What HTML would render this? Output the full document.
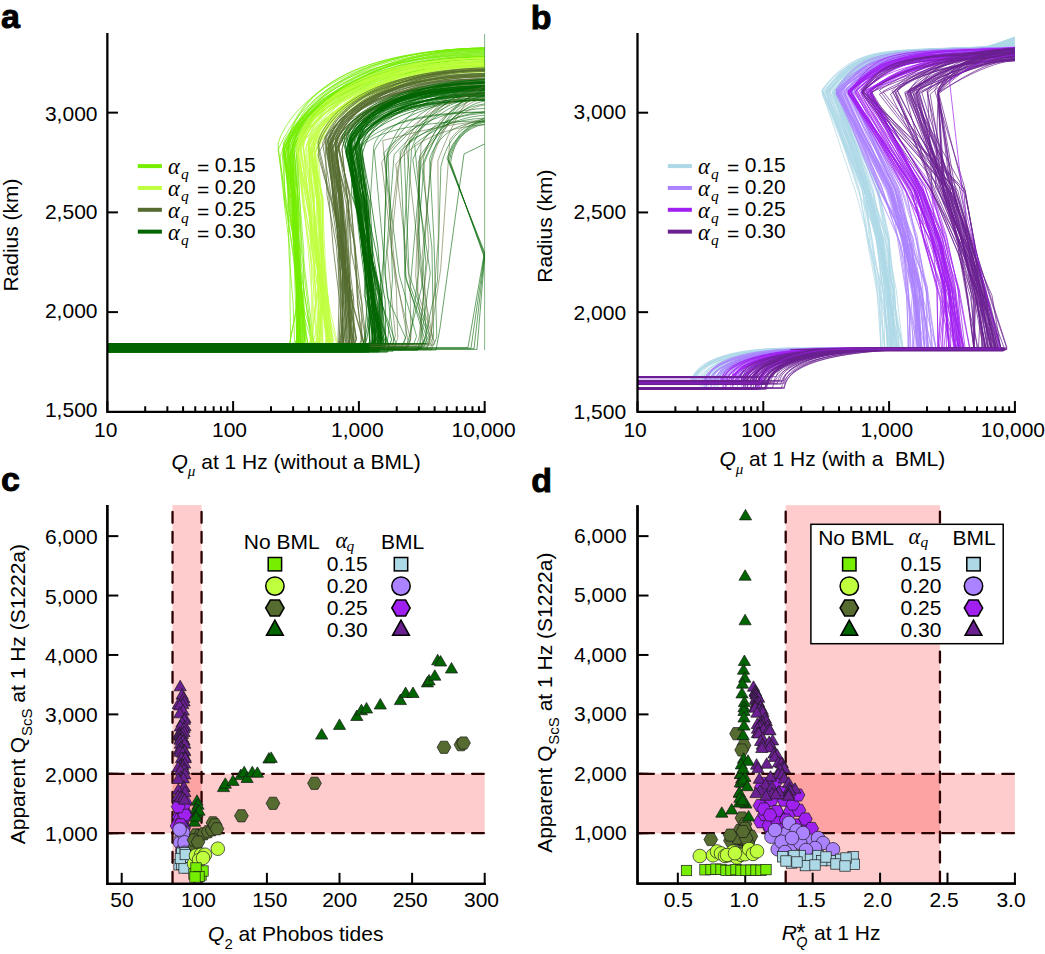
<!DOCTYPE html>
<html><head><meta charset="utf-8"><style>
html,body{margin:0;padding:0;background:#fff;}
svg{display:block;}
svg{font-family:"Liberation Sans", sans-serif;fill:#000;}
</style></head><body>
<svg width="1045" height="954" viewBox="0 0 1045 954">
<rect width="1045" height="954" fill="#fff"/>
<g fill="none" stroke-linejoin="round"><path d="M107.3,346.3H309.4L311.4,341.3L299.1,300.1L292.3,249.2L284.0,195.1L280.1,156.9C292.7,117.5 365.7,50.2 484.6,48.0" stroke="#76EE00" stroke-width="0.7"/>
<path d="M107.3,348.6H306.0L308.0,343.6L298.1,295.4L294.9,253.8L288.5,201.0L287.6,148.7C294.1,118.2 341.2,57.7 484.6,55.8" stroke="#76EE00" stroke-width="0.7"/>
<path d="M107.3,349.5H299.4L301.4,344.5L300.1,297.4L297.6,250.3L295.9,202.3L290.1,159.6C303.3,115.6 340.9,52.4 484.6,50.2" stroke="#76EE00" stroke-width="0.7"/>
<path d="M107.3,347.8H288.7L290.7,342.8L290.0,302.3L290.1,251.0L284.4,204.1L284.1,150.5C297.2,117.9 356.1,53.1 484.6,51.1" stroke="#76EE00" stroke-width="0.7"/>
<path d="M107.3,352.2H297.2L299.2,347.2L298.8,296.2L297.3,252.7L296.2,197.5L289.8,157.7C301.0,116.4 368.9,58.8 484.6,56.8" stroke="#76EE00" stroke-width="0.7"/>
<path d="M107.3,350.7H298.9L300.9,345.7L298.1,296.8L296.2,247.3L294.6,200.9L289.0,142.1C300.4,110.8 371.1,64.0 484.6,62.4" stroke="#76EE00" stroke-width="0.7"/>
<path d="M107.3,349.6H296.2L298.2,344.6L302.3,304.5L298.3,248.7L291.7,195.2L289.9,143.1C297.3,110.1 348.0,52.9 484.6,51.0" stroke="#76EE00" stroke-width="0.7"/>
<path d="M107.3,344.0H294.7L296.7,339.0L297.2,296.5L295.5,248.5L294.4,196.2L285.3,159.9C292.2,113.3 335.4,50.2 484.6,48.0" stroke="#76EE00" stroke-width="0.7"/>
<path d="M107.3,346.5H301.7L303.7,341.5L301.8,295.8L295.6,244.3L288.4,205.7L287.7,154.5C295.2,113.3 363.3,51.4 484.6,49.3" stroke="#76EE00" stroke-width="0.7"/>
<path d="M107.3,348.2H297.3L299.3,343.2L299.3,303.2L298.7,247.3L297.8,198.6L293.6,142.5C306.0,111.6 373.9,60.5 484.6,58.8" stroke="#76EE00" stroke-width="0.7"/>
<path d="M107.3,347.4H310.1L312.1,342.4L306.8,296.4L301.5,251.5L300.0,204.1L296.5,153.8C308.4,124.5 373.9,67.8 484.6,66.0" stroke="#76EE00" stroke-width="0.7"/>
<path d="M107.3,350.4H295.8L297.8,345.4L299.3,299.0L297.9,254.5L298.0,196.7L293.2,144.7C300.4,106.6 368.8,67.6 484.6,66.0" stroke="#76EE00" stroke-width="0.7"/>
<path d="M107.3,352.1H298.7L300.7,347.1L299.0,300.3L296.6,249.3L293.6,203.3L288.3,146.5C300.0,113.8 343.8,58.6 484.6,56.8" stroke="#76EE00" stroke-width="0.7"/>
<path d="M107.3,347.2H309.2L311.2,342.2L305.4,299.0L296.9,250.0L286.3,200.3L278.0,149.9C292.5,117.7 332.8,50.0 484.6,48.0" stroke="#76EE00" stroke-width="0.7"/>
<path d="M107.3,347.7H294.3L296.3,342.7L300.5,295.3L298.0,247.0L294.3,203.3L292.6,152.1C302.6,107.9 360.3,66.5 484.6,64.8" stroke="#76EE00" stroke-width="0.7"/>
<path d="M107.3,347.9H300.0L302.0,342.9L303.1,302.4L298.6,255.3L290.8,200.7L293.6,157.1C303.5,121.3 340.4,54.1 484.6,52.0" stroke="#76EE00" stroke-width="0.7"/>
<path d="M107.3,345.6H292.6L294.6,340.6L293.0,301.9L289.0,254.6L287.9,196.6L284.9,149.2C299.2,96.9 337.4,51.1 484.6,49.1" stroke="#76EE00" stroke-width="0.7"/>
<path d="M107.3,347.3H296.6L298.6,342.3L297.5,299.4L295.2,248.3L294.5,200.1L290.1,159.7C297.0,108.7 345.3,63.4 484.6,61.4" stroke="#76EE00" stroke-width="0.7"/>
<path d="M107.3,343.8H296.3L298.3,338.8L296.9,296.5L296.9,250.7L295.4,195.9L291.0,154.4C305.9,123.5 360.1,62.8 484.6,60.9" stroke="#76EE00" stroke-width="0.7"/>
<path d="M107.3,350.6H313.0L315.0,345.6L301.6,300.6L296.7,247.2L284.0,200.3L278.0,144.0C286.3,112.7 338.5,49.9 484.6,48.0" stroke="#76EE00" stroke-width="0.7"/>
<path d="M107.3,346.2H298.8L300.8,341.2L298.2,295.2L296.4,250.5L292.8,199.7L283.2,143.9C294.3,112.3 363.0,67.6 484.6,66.0" stroke="#76EE00" stroke-width="0.7"/>
<path d="M107.3,347.0H298.7L300.7,342.0L301.6,301.6L296.1,248.2L289.5,195.6L283.0,155.3C289.9,119.8 363.2,55.6 484.6,53.6" stroke="#76EE00" stroke-width="0.7"/>
<path d="M107.3,351.2H296.6L298.6,346.2L297.5,297.6L296.7,254.7L294.2,197.4L284.4,147.6C294.3,119.3 349.5,59.8 484.6,58.0" stroke="#76EE00" stroke-width="0.7"/>
<path d="M107.3,347.9H305.6L307.6,342.9L301.3,294.5L292.4,247.7L285.7,201.0L282.4,155.5C297.3,108.2 344.7,55.9 484.6,53.9" stroke="#76EE00" stroke-width="0.7"/>
<path d="M107.3,346.4H300.3L302.3,341.4L301.7,301.3L299.1,253.1L296.0,200.2L289.0,157.0C300.6,112.6 368.8,67.8 484.6,66.0" stroke="#76EE00" stroke-width="0.7"/>
<path d="M107.3,349.5H294.6L296.6,344.5L296.6,300.6L294.9,251.3L293.3,199.9L289.3,156.4C300.4,117.5 359.9,65.9 484.6,64.1" stroke="#76EE00" stroke-width="0.7"/>
<path d="M107.3,344.1H295.5L297.5,339.1L297.0,304.8L295.4,248.8L293.9,201.8L285.3,153.1C292.8,123.4 341.4,65.1 484.6,63.3" stroke="#76EE00" stroke-width="0.7"/>
<path d="M107.3,350.0H301.0L303.0,345.0L302.5,302.3L296.5,247.5L289.0,199.6L283.7,144.1C299.5,113.8 367.4,60.8 484.6,59.1" stroke="#76EE00" stroke-width="0.7"/>
<path d="M107.3,343.7H298.5L300.5,338.7L297.1,305.3L294.3,251.0L289.3,200.3L292.6,144.4C306.9,109.2 363.7,62.5 484.6,60.9" stroke="#76EE00" stroke-width="0.7"/>
<path d="M107.3,345.5H294.7L296.7,340.5L295.3,296.4L293.8,248.2L292.7,195.0L284.2,157.1C297.3,107.0 366.3,60.7 484.6,58.7" stroke="#76EE00" stroke-width="0.7"/>
<path d="M107.3,346.1H303.3L305.3,341.1L302.0,295.5L298.4,253.3L295.9,204.4L290.4,146.8C299.8,114.2 372.0,56.7 484.6,54.9" stroke="#76EE00" stroke-width="0.7"/>
<path d="M107.3,351.3H312.2L314.2,346.3L307.8,294.6L302.4,249.4L298.4,201.7L291.7,142.9C302.0,116.6 349.4,67.5 484.6,66.0" stroke="#76EE00" stroke-width="0.7"/>
<path d="M107.3,346.1H295.2L297.2,341.1L298.8,298.7L295.9,245.9L294.1,204.9L292.7,146.0C302.8,104.0 342.4,67.6 484.6,66.0" stroke="#76EE00" stroke-width="0.7"/>
<path d="M107.3,345.2H294.9L296.9,340.2L297.2,302.5L295.2,249.1L293.8,198.8L287.8,143.1C294.9,93.8 352.9,49.9 484.6,48.0" stroke="#76EE00" stroke-width="0.7"/>
<path d="M107.3,349.0H296.8L298.8,344.0L298.3,303.5L296.4,245.2L293.1,202.1L283.7,150.5C293.7,123.5 367.0,66.5 484.6,64.8" stroke="#76EE00" stroke-width="0.7"/>
<path d="M107.3,350.8H287.1L289.1,345.8L297.8,302.2L300.7,252.7L298.5,203.2L294.6,151.9C302.5,106.3 373.1,58.7 484.6,56.8" stroke="#76EE00" stroke-width="0.7"/>
<path d="M107.3,349.2H297.1L299.1,344.2L297.9,300.2L297.7,248.9L296.1,201.0L292.0,147.4C304.0,98.6 370.2,54.8 484.6,52.9" stroke="#76EE00" stroke-width="0.7"/>
<path d="M107.3,347.7H302.8L304.8,342.7L302.5,301.7L299.4,247.6L297.3,204.3L291.9,142.6C304.3,105.2 344.0,51.7 484.6,49.9" stroke="#76EE00" stroke-width="0.7"/>
<path d="M107.3,350.5H298.2L300.2,345.5L300.7,296.8L296.2,253.1L294.6,205.4L292.7,145.4C304.9,109.9 373.1,59.1 484.6,57.3" stroke="#76EE00" stroke-width="0.7"/>
<path d="M107.3,344.8H302.6L304.6,339.8L300.9,304.0L297.5,252.3L293.9,204.3L287.9,145.3C294.1,105.7 359.2,63.0 484.6,61.4" stroke="#76EE00" stroke-width="0.7"/>
<path d="M107.3,346.8H295.7L297.7,341.8L297.1,296.2L295.2,247.1L291.9,203.2L283.0,149.8C292.8,107.7 366.3,50.3 484.6,48.2" stroke="#76EE00" stroke-width="0.7"/>
<path d="M107.3,345.2H302.7L304.7,340.2L302.8,294.5L293.3,244.8L292.2,197.1L288.3,158.2C303.5,118.7 357.6,54.4 484.6,52.2" stroke="#76EE00" stroke-width="0.7"/>
<path d="M107.3,345.8H297.4L299.4,340.8L297.2,304.4L293.9,247.3L292.1,204.6L282.4,149.0C293.4,111.8 366.3,59.1 484.6,57.3" stroke="#76EE00" stroke-width="0.7"/>
<path d="M107.3,345.1H310.4L312.4,340.1L304.8,297.8L300.3,253.4L294.4,196.4L297.1,146.5C307.9,117.4 352.5,58.0 484.6,56.2" stroke="#76EE00" stroke-width="0.7"/>
<path d="M107.3,352.1H287.0L289.0,347.1L297.4,302.5L298.1,246.8L297.7,201.4L297.8,155.5C304.5,114.8 372.0,67.8 484.6,66.0" stroke="#76EE00" stroke-width="0.7"/>
<path d="M107.3,346.1H300.7L302.7,341.1L299.4,303.8L296.8,248.3L293.3,204.9L286.3,146.2C302.1,108.4 336.1,64.3 484.6,62.6" stroke="#76EE00" stroke-width="0.7"/>
<path d="M107.3,347.7H304.0L306.0,342.7L303.6,296.3L303.8,251.0L299.6,198.5L298.0,150.1C312.4,106.7 345.0,61.1 484.6,59.3" stroke="#76EE00" stroke-width="0.7"/>
<path d="M107.3,348.7H297.3L299.3,343.7L298.0,301.5L295.0,245.1L292.8,201.8L287.7,147.6C299.0,102.9 335.7,56.7 484.6,54.9" stroke="#76EE00" stroke-width="0.7"/>
<path d="M107.3,344.4H314.9L316.9,339.4L322.2,298.9L314.3,247.7L314.2,197.7L306.1,146.4C320.4,105.5 360.2,65.6 484.6,63.9" stroke="#C0FF3E" stroke-width="0.7"/>
<path d="M107.3,345.2H317.0L319.0,340.2L321.0,303.8L321.5,246.6L320.3,200.5L312.5,156.4C320.9,115.7 369.5,67.0 484.6,65.2" stroke="#C0FF3E" stroke-width="0.7"/>
<path d="M107.3,344.8H312.0L314.0,339.8L320.6,305.6L311.5,245.5L311.9,205.7L302.7,141.0C316.4,112.5 367.1,70.7 484.6,69.2" stroke="#C0FF3E" stroke-width="0.7"/>
<path d="M107.3,350.8H330.5L332.5,345.8L328.1,296.2L313.7,248.8L306.3,198.6L297.0,144.4C303.0,104.0 361.2,65.7 484.6,64.1" stroke="#C0FF3E" stroke-width="0.7"/>
<path d="M107.3,350.2H335.9L337.9,345.2L327.4,297.7L314.3,251.0L303.2,201.9L297.1,147.9C307.3,107.9 349.2,59.8 484.6,58.0" stroke="#C0FF3E" stroke-width="0.7"/>
<path d="M107.3,350.2H318.9L320.9,345.2L320.7,295.9L319.2,250.1L316.5,201.4L312.0,153.2C317.7,120.6 369.1,77.5 484.6,76.0" stroke="#C0FF3E" stroke-width="0.7"/>
<path d="M107.3,346.8H329.4L331.4,341.8L327.9,304.8L325.0,254.6L322.6,196.7L313.9,156.8C325.5,122.6 358.7,70.6 484.6,68.9" stroke="#C0FF3E" stroke-width="0.7"/>
<path d="M107.3,351.4H328.3L330.3,346.4L322.3,297.2L316.5,247.8L305.2,196.2L298.5,156.9C305.7,110.9 370.4,67.4 484.6,65.5" stroke="#C0FF3E" stroke-width="0.7"/>
<path d="M107.3,344.5H324.9L326.9,339.5L323.4,304.6L315.4,255.9L314.5,198.7L311.9,144.8C320.2,114.2 378.0,76.0 484.6,74.6" stroke="#C0FF3E" stroke-width="0.7"/>
<path d="M107.3,347.4H334.3L336.3,342.4L326.5,305.8L316.5,252.0L305.2,194.0L297.0,142.7C307.4,110.3 373.6,64.4 484.6,62.9" stroke="#C0FF3E" stroke-width="0.7"/>
<path d="M107.3,344.7H324.6L326.6,339.7L321.9,298.3L314.2,251.0L308.2,196.5L303.3,148.5C311.0,102.2 350.6,59.8 484.6,58.0" stroke="#C0FF3E" stroke-width="0.7"/>
<path d="M107.3,344.3H324.9L326.9,339.3L322.2,301.7L321.2,248.2L316.8,199.3L315.9,153.2C321.3,109.1 372.6,67.6 484.6,65.9" stroke="#C0FF3E" stroke-width="0.7"/>
<path d="M107.3,347.1H328.0L330.0,342.1L323.2,297.0L318.4,250.1L313.3,203.1L308.3,145.6C321.4,117.5 376.4,61.1 484.6,59.4" stroke="#C0FF3E" stroke-width="0.7"/>
<path d="M107.3,349.8H308.0L310.0,344.8L312.0,296.7L308.0,246.8L303.0,198.0L300.3,152.5C308.3,111.0 363.1,64.9 484.6,63.1" stroke="#C0FF3E" stroke-width="0.7"/>
<path d="M107.3,347.3H315.4L317.4,342.3L318.6,304.6L316.4,247.1L316.9,202.9L318.0,153.4C325.7,111.6 364.4,71.4 484.6,69.7" stroke="#C0FF3E" stroke-width="0.7"/>
<path d="M107.3,351.5H330.5L332.5,346.5L328.6,302.4L323.2,249.2L317.2,200.8L307.8,143.8C321.2,119.7 353.7,72.6 484.6,71.1" stroke="#C0FF3E" stroke-width="0.7"/>
<path d="M107.3,343.7H329.4L331.4,338.7L322.3,302.3L316.3,252.4L306.8,194.8L300.4,146.5C314.1,106.6 345.4,66.1 484.6,64.5" stroke="#C0FF3E" stroke-width="0.7"/>
<path d="M107.3,351.1H308.0L310.0,346.1L316.3,304.2L323.0,251.6L323.0,201.6L313.5,141.8C320.4,107.1 363.9,70.1 484.6,68.7" stroke="#C0FF3E" stroke-width="0.7"/>
<path d="M107.3,347.2H320.7L322.7,342.2L323.4,300.0L321.8,251.2L318.7,199.1L312.1,153.9C321.9,109.5 359.3,59.9 484.6,58.0" stroke="#C0FF3E" stroke-width="0.7"/>
<path d="M107.3,351.1H328.4L330.4,346.1L328.1,305.7L311.7,249.9L304.8,203.6L297.0,148.9C305.1,104.4 375.4,59.8 484.6,58.0" stroke="#C0FF3E" stroke-width="0.7"/>
<path d="M107.3,346.0H326.1L328.1,341.0L321.8,303.5L317.5,253.4L308.2,198.3L300.3,147.1C314.0,120.6 343.8,69.1 484.6,67.5" stroke="#C0FF3E" stroke-width="0.7"/>
<path d="M107.3,345.3H314.2L316.2,340.3L315.7,299.5L313.5,253.1L310.1,201.8L300.6,145.9C312.2,102.6 370.2,59.8 484.6,58.0" stroke="#C0FF3E" stroke-width="0.7"/>
<path d="M107.3,345.0H316.5L318.5,340.0L324.7,296.9L314.6,247.6L313.2,204.1L301.9,142.8C312.1,111.9 349.9,63.9 484.6,62.3" stroke="#C0FF3E" stroke-width="0.7"/>
<path d="M107.3,346.4H309.3L311.3,341.4L313.0,298.6L315.3,253.5L308.5,199.2L297.1,151.5C306.4,118.0 341.7,59.9 484.6,58.0" stroke="#C0FF3E" stroke-width="0.7"/>
<path d="M107.3,347.0H331.5L333.5,342.0L326.6,301.2L323.1,252.9L321.8,199.2L314.5,153.5C325.8,123.6 383.5,72.8 484.6,71.1" stroke="#C0FF3E" stroke-width="0.7"/>
<path d="M107.3,350.3H329.0L331.0,345.3L325.9,301.5L319.1,249.0L319.0,202.6L313.3,144.5C323.8,113.7 366.8,71.0 484.6,69.5" stroke="#C0FF3E" stroke-width="0.7"/>
<path d="M107.3,349.4H326.0L328.0,344.4L326.6,295.4L322.9,246.6L320.5,204.4L313.3,141.8C324.6,113.5 370.3,77.1 484.6,75.8" stroke="#C0FF3E" stroke-width="0.7"/>
<path d="M107.3,349.1H317.3L319.3,344.1L322.0,298.7L322.1,245.5L323.0,198.3L308.8,144.9C317.8,121.6 364.1,72.9 484.6,71.5" stroke="#C0FF3E" stroke-width="0.7"/>
<path d="M107.3,349.6H320.8L322.8,344.6L321.8,303.0L321.0,247.1L319.1,202.8L310.2,151.4C317.4,113.5 383.8,65.6 484.6,63.9" stroke="#C0FF3E" stroke-width="0.7"/>
<path d="M107.3,346.6H325.6L327.6,341.6L326.4,295.5L323.2,248.3L318.3,197.2L308.9,144.6C314.2,117.6 374.6,70.0 484.6,68.4" stroke="#C0FF3E" stroke-width="0.7"/>
<path d="M107.3,346.0H323.9L325.9,341.0L322.8,304.3L320.5,245.6L317.4,204.1L308.7,142.5C314.1,108.8 349.7,68.7 484.6,67.2" stroke="#C0FF3E" stroke-width="0.7"/>
<path d="M107.3,351.9H318.0L320.0,346.9L318.6,296.5L317.4,252.9L313.8,203.9L306.1,154.1C318.5,112.9 377.0,73.9 484.6,72.2" stroke="#C0FF3E" stroke-width="0.7"/>
<path d="M107.3,345.2H326.8L328.8,340.2L327.7,297.2L319.9,245.7L316.8,194.7L311.1,142.6C321.0,112.3 380.9,71.8 484.6,70.3" stroke="#C0FF3E" stroke-width="0.7"/>
<path d="M107.3,343.6H325.4L327.4,338.6L324.5,304.6L321.1,251.4L319.2,195.3L311.5,152.3C325.2,123.0 369.0,77.5 484.6,76.0" stroke="#C0FF3E" stroke-width="0.7"/>
<path d="M107.3,347.8H326.8L328.8,342.8L325.5,299.7L322.1,252.7L318.2,199.4L311.6,150.0C324.0,122.1 365.4,77.5 484.6,76.0" stroke="#C0FF3E" stroke-width="0.7"/>
<path d="M107.3,347.9H317.2L319.2,342.9L316.6,297.8L312.0,251.0L309.4,203.4L297.0,153.0C303.1,116.7 351.5,70.1 484.6,68.4" stroke="#C0FF3E" stroke-width="0.7"/>
<path d="M107.3,343.6H314.9L316.9,338.6L319.4,301.3L312.6,251.5L308.2,201.2L303.3,143.8C315.6,110.9 348.8,65.4 484.6,63.8" stroke="#C0FF3E" stroke-width="0.7"/>
<path d="M107.3,345.1H310.6L312.6,340.1L315.4,303.4L309.2,247.1L303.0,199.1L297.0,147.8C303.1,103.3 361.4,62.4 484.6,60.7" stroke="#C0FF3E" stroke-width="0.7"/>
<path d="M107.3,343.8H315.5L317.5,338.8L312.0,298.6L311.0,255.3L308.8,199.7L298.4,141.8C305.4,113.2 342.0,63.8 484.6,62.2" stroke="#C0FF3E" stroke-width="0.7"/>
<path d="M107.3,343.5H331.1L333.1,338.5L324.8,302.2L318.9,252.3L313.3,195.5L304.6,152.8C310.8,116.6 368.6,77.0 484.6,75.4" stroke="#C0FF3E" stroke-width="0.7"/>
<path d="M107.3,349.7H327.8L329.8,344.7L319.4,294.2L318.8,253.8L309.2,197.7L309.6,143.0C315.3,113.2 362.8,72.9 484.6,71.5" stroke="#C0FF3E" stroke-width="0.7"/>
<path d="M107.3,348.6H326.7L328.7,343.6L324.6,301.6L317.0,248.6L313.8,205.3L309.8,150.2C323.6,121.6 374.5,64.7 484.6,62.9" stroke="#C0FF3E" stroke-width="0.7"/>
<path d="M107.3,350.8H320.6L322.6,345.8L317.8,299.1L317.4,248.5L311.0,201.2L309.0,154.5C316.5,125.0 364.2,62.7 484.6,60.9" stroke="#C0FF3E" stroke-width="0.7"/>
<path d="M107.3,348.7H316.5L318.5,343.7L323.6,300.9L318.5,254.2L321.5,202.2L318.0,146.2C329.6,111.9 363.1,68.3 484.6,66.7" stroke="#C0FF3E" stroke-width="0.7"/>
<path d="M107.3,350.1H325.4L327.4,345.1L324.7,302.5L322.5,249.6L318.4,203.1L309.8,144.2C322.8,109.8 368.3,77.3 484.6,75.9" stroke="#C0FF3E" stroke-width="0.7"/>
<path d="M107.3,347.7H320.0L322.0,342.7L319.9,299.0L317.4,246.5L313.9,205.0L307.7,141.9C314.3,107.6 369.5,71.9 484.6,70.5" stroke="#C0FF3E" stroke-width="0.7"/>
<path d="M107.3,346.5H318.1L320.1,341.5L321.8,297.6L322.7,249.3L322.6,202.7L313.7,157.3C320.6,127.1 359.3,65.7 484.6,63.8" stroke="#C0FF3E" stroke-width="0.7"/>
<path d="M107.3,344.2H309.0L311.0,339.2L316.4,294.8L309.7,248.8L303.0,205.5L297.0,150.2C308.9,104.1 355.0,62.7 484.6,60.9" stroke="#C0FF3E" stroke-width="0.7"/>
<path d="M107.3,347.4H337.7L339.7,342.4L340.7,298.2L340.0,254.9L333.7,194.6L326.0,149.5C331.2,109.8 367.2,75.1 484.6,73.5" stroke="#556B2F" stroke-width="0.7"/>
<path d="M107.3,350.1H338.6L340.6,345.1L343.9,297.9L345.9,245.5L349.4,196.0L336.8,138.7C346.5,122.6 376.6,89.0 484.6,88.0" stroke="#556B2F" stroke-width="0.7"/>
<path d="M107.3,343.8H354.1L356.1,338.8L351.3,296.0L347.0,253.4L342.6,199.5L336.5,151.6C342.0,122.4 377.2,87.5 484.6,86.2" stroke="#556B2F" stroke-width="0.7"/>
<path d="M107.3,344.0H347.8L349.8,339.0L348.1,295.9L344.2,254.1L342.7,196.0L335.0,142.0C346.8,123.7 371.3,89.1 484.6,88.0" stroke="#556B2F" stroke-width="0.7"/>
<path d="M107.3,351.4H346.3L348.3,346.4L344.7,304.9L341.1,254.3L335.9,197.9L326.5,137.1C339.0,117.5 363.6,86.0 484.6,85.0" stroke="#556B2F" stroke-width="0.7"/>
<path d="M107.3,350.6H339.6L341.6,345.6L343.0,304.1L342.2,250.7L341.4,196.8L332.8,149.5C338.0,123.1 386.2,71.6 484.6,70.0" stroke="#556B2F" stroke-width="0.7"/>
<path d="M107.3,347.9H349.2L351.2,342.9L347.4,295.7L344.3,249.1L341.1,195.6L332.3,142.4C340.6,110.9 367.9,80.2 484.6,78.9" stroke="#556B2F" stroke-width="0.7"/>
<path d="M107.3,351.5H347.5L349.5,346.5L349.6,296.0L343.3,251.1L334.2,200.2L328.7,145.8C339.7,111.2 391.4,73.0 484.6,71.5" stroke="#556B2F" stroke-width="0.7"/>
<path d="M107.3,346.3H351.4L353.4,341.3L346.3,300.1L339.8,250.4L333.5,204.7L328.2,139.5C339.3,116.1 365.3,77.1 484.6,75.9" stroke="#556B2F" stroke-width="0.7"/>
<path d="M107.3,344.3H339.9L341.9,339.3L342.6,296.0L341.6,252.2L339.0,196.2L332.0,145.5C339.7,122.7 371.4,79.8 484.6,78.5" stroke="#556B2F" stroke-width="0.7"/>
<path d="M107.3,348.7H347.6L349.6,343.7L348.4,298.9L343.9,253.4L341.2,199.0L331.6,150.8C338.7,125.9 380.1,84.0 484.6,82.6" stroke="#556B2F" stroke-width="0.7"/>
<path d="M107.3,352.1H362.0L364.0,347.1L357.6,305.5L355.1,247.0L345.6,201.6L335.4,146.1C343.6,118.1 370.5,78.6 484.6,77.2" stroke="#556B2F" stroke-width="0.7"/>
<path d="M107.3,344.7H364.0L366.0,339.7L362.0,304.6L351.4,251.7L348.2,202.1L338.0,146.3C344.2,120.3 387.0,89.2 484.6,88.0" stroke="#556B2F" stroke-width="0.7"/>
<path d="M107.3,347.3H343.5L345.5,342.3L345.7,300.1L342.0,249.7L340.2,196.5L335.5,138.5C342.1,116.6 377.1,84.8 484.6,83.7" stroke="#556B2F" stroke-width="0.7"/>
<path d="M107.3,344.3H352.0L354.0,339.3L349.1,302.5L345.2,250.6L341.1,199.6L328.4,140.6C336.1,112.7 382.6,75.8 484.6,74.5" stroke="#556B2F" stroke-width="0.7"/>
<path d="M107.3,343.6H354.7L356.7,338.6L349.8,305.9L341.7,253.3L332.5,194.8L331.8,144.4C339.8,114.1 389.4,69.6 484.6,68.0" stroke="#556B2F" stroke-width="0.7"/>
<path d="M107.3,344.5H338.8L340.8,339.5L343.0,302.1L339.1,254.2L335.2,200.2L326.8,150.1C337.8,119.6 385.4,78.1 484.6,76.7" stroke="#556B2F" stroke-width="0.7"/>
<path d="M107.3,351.5H363.1L365.1,346.5L353.3,305.6L342.2,249.0L332.5,204.5L322.6,143.2C333.3,113.0 369.4,71.3 484.6,69.8" stroke="#556B2F" stroke-width="0.7"/>
<path d="M107.3,346.9H344.9L346.9,341.9L345.6,296.8L343.1,246.4L341.7,200.8L337.2,153.5C347.8,115.5 399.2,77.8 484.6,76.3" stroke="#556B2F" stroke-width="0.7"/>
<path d="M107.3,345.3H347.5L349.5,340.3L351.0,305.0L346.2,250.5L341.5,200.2L328.5,149.0C337.8,120.0 375.4,76.2 484.6,74.8" stroke="#556B2F" stroke-width="0.7"/>
<path d="M107.3,351.8H343.8L345.8,346.8L349.7,300.9L349.0,255.6L343.1,199.3L336.0,154.9C346.6,122.6 375.4,80.5 484.6,79.0" stroke="#556B2F" stroke-width="0.7"/>
<path d="M107.3,346.3H359.5L361.5,341.3L362.0,303.8L356.0,254.7L349.8,195.9L338.5,145.7C344.2,125.1 390.5,88.8 484.6,87.6" stroke="#556B2F" stroke-width="0.7"/>
<path d="M107.3,348.8H341.3L343.3,343.8L349.5,297.7L342.7,244.0L333.8,204.1L327.7,148.7C336.8,115.8 372.2,71.8 484.6,70.2" stroke="#556B2F" stroke-width="0.7"/>
<path d="M107.3,349.2H350.0L352.0,344.2L348.4,303.1L342.0,245.2L336.9,200.3L335.4,147.6C340.0,126.6 392.7,84.8 484.6,83.5" stroke="#556B2F" stroke-width="0.7"/>
<path d="M107.3,346.3H341.4L343.4,341.3L342.3,298.5L339.0,248.9L335.7,203.9L328.2,154.2C334.8,121.8 365.7,82.8 484.6,81.3" stroke="#556B2F" stroke-width="0.7"/>
<path d="M107.3,351.7H352.7L354.7,346.7L351.6,300.0L346.5,247.4L341.7,202.2L336.4,141.9C346.7,119.4 377.8,89.1 484.6,88.0" stroke="#556B2F" stroke-width="0.7"/>
<path d="M107.3,345.0H354.2L356.2,340.0L349.2,298.9L342.0,245.7L336.0,203.3L329.9,140.7C336.4,114.3 366.7,71.6 484.6,70.2" stroke="#556B2F" stroke-width="0.7"/>
<path d="M107.3,349.3H349.7L351.7,344.3L345.4,299.4L340.3,253.0L334.1,198.5L325.7,143.2C338.1,121.3 378.3,83.4 484.6,82.2" stroke="#556B2F" stroke-width="0.7"/>
<path d="M107.3,345.5H350.7L352.7,340.5L346.5,297.5L341.2,247.1L336.9,196.2L329.8,146.3C337.4,111.5 385.7,74.8 484.6,73.4" stroke="#556B2F" stroke-width="0.7"/>
<path d="M107.3,348.5H341.4L343.4,343.5L341.3,296.1L338.2,248.6L335.5,198.0L331.1,141.9C341.2,117.3 375.1,71.3 484.6,69.8" stroke="#556B2F" stroke-width="0.7"/>
<path d="M107.3,347.0H364.0L366.0,342.0L358.1,294.4L355.4,252.0L347.5,199.0L342.0,149.3C348.8,116.2 392.7,83.5 484.6,82.2" stroke="#556B2F" stroke-width="0.7"/>
<path d="M107.3,345.1H341.4L343.4,340.1L339.0,295.9L333.2,247.6L328.7,194.5L318.0,148.1C327.8,108.8 380.2,69.6 484.6,68.0" stroke="#556B2F" stroke-width="0.7"/>
<path d="M107.3,345.7H346.8L348.8,340.7L353.3,297.4L340.2,254.2L338.4,194.6L324.8,138.1C336.9,117.7 385.4,82.5 484.6,81.4" stroke="#556B2F" stroke-width="0.7"/>
<path d="M107.3,344.3H350.4L352.4,339.3L350.3,299.2L346.0,251.9L342.4,203.3L334.6,144.6C342.3,112.4 384.5,76.2 484.6,74.8" stroke="#556B2F" stroke-width="0.7"/>
<path d="M107.3,351.7H362.5L364.5,346.7L351.4,300.6L345.5,251.7L330.4,197.0L318.0,142.8C325.6,116.5 361.0,70.6 484.6,69.1" stroke="#556B2F" stroke-width="0.7"/>
<path d="M107.3,349.7H343.0L345.0,344.7L343.6,298.0L341.8,246.4L339.0,198.3L330.1,146.4C339.9,125.1 384.1,86.8 484.6,85.6" stroke="#556B2F" stroke-width="0.7"/>
<path d="M107.3,347.6H340.4L342.4,342.6L346.0,294.7L344.7,246.4L347.1,199.4L330.8,142.2C336.7,118.9 368.5,84.0 484.6,82.8" stroke="#556B2F" stroke-width="0.7"/>
<path d="M107.3,343.6H338.4L340.4,338.6L347.3,295.3L348.2,249.2L348.1,200.5L334.7,153.5C346.2,124.2 388.7,89.3 484.6,88.0" stroke="#556B2F" stroke-width="0.7"/>
<path d="M107.3,345.7H340.5L342.5,340.7L342.6,301.4L342.8,254.3L340.9,202.8L331.9,150.1C342.8,121.8 376.9,71.7 484.6,70.1" stroke="#556B2F" stroke-width="0.7"/>
<path d="M107.3,346.7H351.2L353.2,341.7L347.9,303.2L341.6,254.1L336.8,199.9L329.8,139.0C335.1,111.4 386.7,77.1 484.6,75.8" stroke="#556B2F" stroke-width="0.7"/>
<path d="M107.3,344.9H347.0L349.0,339.9L348.4,302.7L339.9,254.1L340.7,203.4L327.6,141.4C335.6,115.2 374.4,80.7 484.6,79.4" stroke="#556B2F" stroke-width="0.7"/>
<path d="M107.3,347.4H351.3L353.3,342.4L353.8,300.8L347.1,246.3L339.4,197.9L333.4,154.5C345.3,121.4 397.2,89.2 484.6,87.9" stroke="#556B2F" stroke-width="0.7"/>
<path d="M107.3,349.0H349.3L351.3,344.0L348.7,299.8L343.7,248.0L339.5,203.9L335.4,139.6C340.5,118.1 389.4,88.1 484.6,87.1" stroke="#556B2F" stroke-width="0.7"/>
<path d="M107.3,346.8H347.3L349.3,341.8L346.0,303.9L342.7,246.1L339.9,197.5L335.4,146.1C344.0,116.7 376.5,77.0 484.6,75.6" stroke="#556B2F" stroke-width="0.7"/>
<path d="M107.3,348.5H336.0L338.0,343.5L339.0,299.3L338.6,250.6L331.6,203.1L318.0,154.8C329.9,127.6 369.4,75.4 484.6,73.8" stroke="#556B2F" stroke-width="0.7"/>
<path d="M107.3,345.0H359.2L361.2,340.0L357.4,296.8L354.0,244.2L350.9,196.6L338.2,149.4C347.1,117.6 397.3,87.3 484.6,86.0" stroke="#556B2F" stroke-width="0.7"/>
<path d="M107.3,348.5H340.8L342.8,343.5L349.5,302.2L350.4,245.5L347.9,202.8L342.0,149.7C347.0,118.5 390.5,80.5 484.6,79.0" stroke="#556B2F" stroke-width="0.7"/>
<path d="M107.3,350.6H336.7L338.7,345.6L341.2,304.1L336.3,245.4L327.0,195.3L325.0,139.5C335.3,113.8 373.9,72.5 484.6,71.1" stroke="#556B2F" stroke-width="0.7"/>
<path d="M107.3,344.8H389.6L391.6,339.8L380.5,298.1L372.7,250.0L370.0,203.6L354.3,139.5C360.8,121.4 396.7,100.8 484.6,100.0" stroke="#006400" stroke-width="0.7"/>
<path d="M107.3,344.9H379.5L381.5,339.9L375.0,303.9L368.3,245.4L361.7,198.6L354.9,147.0C358.8,126.8 399.7,96.1 484.6,95.1" stroke="#006400" stroke-width="0.7"/>
<path d="M107.3,346.4H381.2L383.2,341.4L373.7,297.7L364.4,247.6L356.1,200.3L346.4,154.9C355.8,122.5 402.2,81.5 484.6,80.0" stroke="#006400" stroke-width="0.7"/>
<path d="M107.3,350.3H368.6L370.6,345.3L377.7,305.3L369.8,247.6L364.8,202.9L355.3,148.1C361.8,123.2 386.7,91.4 484.6,90.3" stroke="#006400" stroke-width="0.7"/>
<path d="M107.3,346.5H378.9L380.9,341.5L374.6,298.2L363.5,244.1L359.7,199.4L347.0,146.8C351.6,124.5 387.0,84.6 484.6,83.3" stroke="#006400" stroke-width="0.7"/>
<path d="M107.3,346.2H380.1L382.1,341.2L381.9,295.0L369.8,251.0L368.1,198.3L361.4,144.1C368.1,129.6 411.8,100.9 484.6,100.0" stroke="#006400" stroke-width="0.7"/>
<path d="M107.3,345.9H370.6L372.6,340.9L368.2,297.0L363.2,253.6L358.7,197.0L350.3,154.3C359.8,131.9 404.6,88.1 484.6,86.8" stroke="#006400" stroke-width="0.7"/>
<path d="M107.3,346.5H375.7L377.7,341.5L373.3,298.3L369.3,251.5L365.0,201.8L359.0,137.1C366.7,119.0 396.3,82.5 484.6,81.4" stroke="#006400" stroke-width="0.7"/>
<path d="M107.3,347.9H375.2L377.2,342.9L370.5,295.6L362.5,252.2L355.4,195.9L350.4,138.7C359.9,124.5 392.7,97.1 484.6,96.2" stroke="#006400" stroke-width="0.7"/>
<path d="M107.3,348.2H378.8L380.8,343.2L379.9,297.1L371.0,253.2L364.1,197.7L358.0,154.6C365.2,130.8 410.9,92.3 484.6,91.0" stroke="#006400" stroke-width="0.7"/>
<path d="M107.3,344.7H377.0L379.0,339.7L373.9,302.6L367.9,245.3L363.4,195.6L356.4,146.5C362.6,112.5 389.8,81.3 484.6,80.0" stroke="#006400" stroke-width="0.7"/>
<path d="M107.3,345.1H362.8L364.8,340.1L371.2,305.8L369.2,251.6L364.0,203.6L357.1,142.2C365.6,127.9 388.2,100.8 484.6,100.0" stroke="#006400" stroke-width="0.7"/>
<path d="M107.3,349.2H378.6L380.6,344.2L380.1,305.3L367.8,246.7L356.9,197.1L348.7,140.4C357.1,113.3 388.1,84.4 484.6,83.3" stroke="#006400" stroke-width="0.7"/>
<path d="M107.3,352.2H387.4L389.4,347.2L375.8,303.0L368.0,247.4L354.0,199.8L350.8,139.1C357.9,116.2 397.1,88.3 484.6,87.3" stroke="#006400" stroke-width="0.7"/>
<path d="M107.3,351.3H386.7L388.7,346.3L375.1,304.4L369.2,247.6L351.7,195.3L351.9,136.2C360.7,120.4 385.1,91.7 484.6,90.8" stroke="#006400" stroke-width="0.7"/>
<path d="M107.3,345.0H373.1L375.1,340.0L373.2,295.3L368.1,252.9L365.9,195.4L358.9,140.4C362.8,124.3 412.6,93.5 484.6,92.5" stroke="#006400" stroke-width="0.7"/>
<path d="M107.3,346.3H374.7L376.7,341.3L370.7,296.5L363.7,250.0L356.4,198.5L349.4,153.5C360.0,132.5 404.3,96.3 484.6,95.2" stroke="#006400" stroke-width="0.7"/>
<path d="M107.3,349.9H371.0L373.0,344.9L368.2,300.6L361.8,245.1L356.6,201.5L349.3,146.4C359.3,116.2 399.8,89.7 484.6,88.5" stroke="#006400" stroke-width="0.7"/>
<path d="M107.3,347.0H381.4L383.4,342.0L374.8,305.0L366.1,251.1L360.4,197.5L352.8,143.2C357.5,121.4 405.3,83.4 484.6,82.2" stroke="#006400" stroke-width="0.7"/>
<path d="M107.3,350.4H378.0L380.0,345.4L372.6,304.7L364.6,252.5L359.6,200.1L352.1,154.9C361.0,127.6 392.6,95.1 484.6,93.9" stroke="#006400" stroke-width="0.7"/>
<path d="M107.3,349.8H373.7L375.7,344.8L374.0,300.5L363.2,251.4L356.9,204.9L349.1,149.7C354.6,124.2 384.2,89.5 484.6,88.2" stroke="#006400" stroke-width="0.7"/>
<path d="M107.3,351.7H379.2L381.2,346.7L373.3,303.9L367.8,251.7L363.3,204.7L358.0,136.8C367.0,113.2 390.3,89.6 484.6,88.7" stroke="#006400" stroke-width="0.7"/>
<path d="M107.3,344.9H373.0L375.0,339.9L371.4,299.0L368.5,252.0L364.3,199.8L355.5,150.4C361.7,118.2 398.6,81.4 484.6,80.0" stroke="#006400" stroke-width="0.7"/>
<path d="M107.3,345.6H372.9L374.9,340.6L368.4,296.8L362.4,247.7L355.4,197.4L346.4,137.7C352.0,113.9 389.9,90.6 484.6,89.6" stroke="#006400" stroke-width="0.7"/>
<path d="M107.3,350.5H368.4L370.4,345.5L367.8,299.1L364.1,253.1L360.1,198.9L352.7,153.6C361.3,119.2 392.9,88.7 484.6,87.4" stroke="#006400" stroke-width="0.7"/>
<path d="M107.3,349.4H378.6L380.6,344.4L374.2,302.6L365.3,250.9L359.6,199.6L350.6,143.9C357.5,114.9 394.6,87.3 484.6,86.2" stroke="#006400" stroke-width="0.7"/>
<path d="M107.3,348.0H383.7L385.7,343.0L385.2,300.6L376.4,253.2L364.1,196.6L353.7,151.5C362.6,131.0 398.6,91.3 484.6,90.1" stroke="#006400" stroke-width="0.7"/>
<path d="M107.3,344.0H364.8L366.8,339.0L373.3,301.0L372.5,253.8L366.5,195.7L354.0,145.8C359.7,114.4 390.9,86.9 484.6,85.7" stroke="#006400" stroke-width="0.7"/>
<path d="M107.3,346.3H367.8L369.8,341.3L365.3,297.7L365.1,253.6L358.3,197.1L341.8,137.0C349.4,116.8 388.6,86.7 484.6,85.7" stroke="#006400" stroke-width="0.7"/>
<path d="M107.3,348.6H383.6L385.6,343.6L372.6,297.8L366.8,248.9L358.4,197.9L345.5,151.1C355.3,120.0 394.0,85.3 484.6,84.0" stroke="#006400" stroke-width="0.7"/>
<path d="M107.3,347.5H380.2L382.2,342.5L372.5,303.6L363.5,251.0L355.6,204.2L348.3,151.2C357.0,127.2 387.7,99.7 484.6,98.7" stroke="#006400" stroke-width="0.7"/>
<path d="M107.3,345.4H380.2L382.2,340.4L374.6,304.5L365.2,251.6L357.4,204.1L349.3,138.9C353.6,116.2 403.0,90.7 484.6,89.7" stroke="#006400" stroke-width="0.7"/>
<path d="M107.3,346.1H383.7L385.7,341.1L381.4,297.9L368.2,245.8L357.5,205.8L344.0,136.6C349.8,112.4 391.7,83.8 484.6,82.7" stroke="#006400" stroke-width="0.7"/>
<path d="M107.3,344.3H378.0L380.0,339.3L378.8,295.5L370.5,256.0L362.8,200.3L348.1,142.6C358.6,121.9 382.2,94.3 484.6,93.3" stroke="#006400" stroke-width="0.7"/>
<path d="M107.3,347.8H381.5L383.5,342.8L382.5,304.7L377.8,246.7L370.0,194.4L362.2,154.4C369.9,123.8 391.7,96.0 484.6,94.8" stroke="#006400" stroke-width="0.7"/>
<path d="M107.3,346.4H378.9L380.9,341.4L372.0,300.6L363.9,250.5L357.9,201.0L351.2,136.6C359.5,120.7 385.5,90.2 484.6,89.2" stroke="#006400" stroke-width="0.7"/>
<path d="M107.3,348.6H376.8L378.8,343.6L371.7,303.4L364.7,249.8L356.7,195.9L347.5,138.2C352.4,116.3 391.9,88.0 484.6,87.0" stroke="#006400" stroke-width="0.7"/>
<path d="M107.3,344.9H370.7L372.7,339.9L372.5,295.5L365.8,254.5L361.2,204.7L345.9,153.9C354.0,123.4 396.9,91.8 484.6,90.5" stroke="#006400" stroke-width="0.7"/>
<path d="M107.3,345.5H371.5L373.5,340.5L367.9,303.9L361.0,250.8L355.4,201.0L346.7,149.5C355.0,127.0 405.4,89.2 484.6,88.0" stroke="#006400" stroke-width="0.7"/>
<path d="M107.3,343.9H376.8L378.8,338.9L378.1,305.1L366.3,255.3L362.1,198.9L348.9,140.7C354.0,120.3 389.5,97.0 484.6,96.1" stroke="#006400" stroke-width="0.7"/>
<path d="M107.3,344.7H373.4L375.4,339.7L372.5,300.0L369.3,254.1L366.6,201.4L361.4,147.9C365.7,119.8 407.4,90.7 484.6,89.5" stroke="#006400" stroke-width="0.7"/>
<path d="M107.3,346.6H367.5L369.5,341.6L370.0,305.2L363.5,252.9L356.4,203.6L345.2,144.3C355.5,117.5 385.7,89.6 484.6,88.4" stroke="#006400" stroke-width="0.7"/>
<path d="M107.3,352.0H379.1L381.1,347.0L373.0,304.1L365.7,246.4L360.8,196.8L352.7,153.3C359.2,125.6 403.6,94.8 484.6,93.6" stroke="#006400" stroke-width="0.7"/>
<path d="M107.3,350.5H379.5L381.5,345.5L381.4,304.0L370.1,251.1L366.3,203.5L349.3,145.3C358.8,125.2 391.8,87.1 484.6,85.9" stroke="#006400" stroke-width="0.7"/>
<path d="M107.3,348.8H371.5L373.5,343.8L368.8,295.9L363.5,252.0L359.3,201.6L350.5,138.3C360.0,123.3 386.3,93.0 484.6,92.1" stroke="#006400" stroke-width="0.7"/>
<path d="M107.3,345.9H371.3L373.3,340.9L371.2,300.0L368.6,250.1L366.1,196.9L357.1,139.1C362.0,126.6 410.4,100.4 484.6,99.6" stroke="#006400" stroke-width="0.7"/>
<path d="M107.3,347.5H373.0L375.0,342.5L369.2,298.8L363.2,253.9L356.9,195.8L349.1,144.4C357.7,127.1 397.4,100.9 484.6,100.0" stroke="#006400" stroke-width="0.7"/>
<path d="M107.3,346.8H375.6L377.6,341.8L380.3,294.7L370.5,252.2L361.3,199.4L356.1,152.9C360.2,125.1 394.1,95.3 484.6,94.1" stroke="#006400" stroke-width="0.7"/>
<path d="M107.3,344.7H362.4L364.4,339.7L367.6,298.7L372.5,251.7L367.6,203.1L359.9,146.3C367.7,121.1 408.6,98.8 484.6,97.8" stroke="#006400" stroke-width="0.7"/>
<path d="M107.3,349.5H373.5L375.5,344.5L369.5,300.9L367.5,253.5L357.2,195.7L349.4,152.7C354.6,119.5 389.0,83.6 484.6,82.2" stroke="#006400" stroke-width="0.7"/>
<path d="M107.3,343.9H392.4L395.4,335.9L387.2,251.7L398.1,166.9C413.6,119.2 444.8,96.2 484.6,92.5" stroke="#556B2F" stroke-width="0.65" stroke-opacity="0.85"/>
<path d="M107.3,346.1H402.6L405.6,338.1L387.5,297.5L374.3,151.0C382.6,132.9 409.6,101.4 484.6,100.4" stroke="#006400" stroke-width="0.65" stroke-opacity="0.85"/>
<path d="M107.3,350.2H416.9L419.9,342.2L425.9,262.9L414.6,144.3C432.2,129.8 459.0,116.7 484.6,115.3" stroke="#006400" stroke-width="0.65" stroke-opacity="0.85"/>
<path d="M107.3,349.5H390.8L393.8,341.5L384.9,274.1L394.1,154.8C418.1,127.5 453.3,99.4 484.6,96.5" stroke="#006400" stroke-width="0.65" stroke-opacity="0.85"/>
<path d="M107.3,343.8H430.5L433.5,335.8L431.9,247.0L421.9,166.3C436.5,128.5 460.2,99.2 484.6,95.6" stroke="#006400" stroke-width="0.65" stroke-opacity="0.85"/>
<path d="M107.3,349.5H419.8L422.8,341.5L415.7,275.1L421.1,143.1C436.7,119.7 460.9,99.6 484.6,97.3" stroke="#556B2F" stroke-width="0.65" stroke-opacity="0.85"/>
<path d="M107.3,349.0H426.8L429.8,341.0L422.0,257.5L431.9,160.8C442.6,123.8 462.0,101.8 484.6,98.7" stroke="#556B2F" stroke-width="0.65" stroke-opacity="0.85"/>
<path d="M107.3,345.0H433.8L436.8,337.0L433.9,239.3L429.6,158.7C438.4,133.1 457.9,122.9 484.6,121.1" stroke="#006400" stroke-width="0.65" stroke-opacity="0.85"/>
<path d="M107.3,346.8H407.2L410.2,338.8L418.8,270.2L419.5,156.2C437.5,131.6 463.1,103.9 484.6,101.1" stroke="#006400" stroke-width="0.65" stroke-opacity="0.85"/>
<path d="M107.3,349.8H431.4L434.4,341.8L417.8,292.9L418.6,161.1C435.9,134.4 461.5,107.8 484.6,105.0" stroke="#556B2F" stroke-width="0.65" stroke-opacity="0.85"/>
<path d="M107.3,350.1H417.7L420.7,342.1L430.3,272.9L412.8,159.7C424.3,128.1 449.7,115.5 484.6,113.2" stroke="#006400" stroke-width="0.65" stroke-opacity="0.85"/>
<path d="M107.3,348.3H430.3L433.3,340.3L421.2,277.3L406.4,146.3C427.6,119.8 458.1,91.6 484.6,88.8" stroke="#556B2F" stroke-width="0.65" stroke-opacity="0.85"/>
<path d="M107.3,346.4H421.4L424.4,338.4L405.0,274.0L411.5,149.1C425.5,109.6 452.1,88.3 484.6,85.1" stroke="#006400" stroke-width="0.65" stroke-opacity="0.85"/>
<path d="M107.3,344.0H403.1L406.1,336.0L404.1,237.7L409.5,141.1C427.9,129.3 456.5,119.2 484.6,118.1" stroke="#006400" stroke-width="0.65" stroke-opacity="0.85"/>
<path d="M107.3,346.2H394.8L397.8,338.2L396.3,288.8L381.7,162.2C405.4,125.1 444.2,96.8 484.6,93.4" stroke="#556B2F" stroke-width="0.65" stroke-opacity="0.85"/>
<path d="M107.3,343.7H427.0L430.0,335.7L409.0,274.1L404.2,151.9C423.3,118.1 453.8,90.7 484.6,87.5" stroke="#006400" stroke-width="0.65" stroke-opacity="0.85"/>
<path d="M107.3,346.7H407.9L410.9,338.7L410.1,286.3L395.8,164.3C413.5,140.6 446.1,126.8 484.6,124.8" stroke="#556B2F" stroke-width="0.65" stroke-opacity="0.85"/>
<path d="M107.3,351.4H376.1L379.1,343.4L374.3,279.6L356.9,152.7C361.9,137.1 396.6,113.1 484.6,112.3" stroke="#006400" stroke-width="0.65" stroke-opacity="0.85"/>
<path d="M107.3,345.8H385.0L388.0,337.8L392.5,279.3L388.0,152.3C406.4,115.5 441.5,95.9 484.6,92.9" stroke="#006400" stroke-width="0.65" stroke-opacity="0.85"/>
<path d="M107.3,348.0H421.5L424.5,340.0L437.5,280.6L440.9,166.6C447.9,136.1 463.3,124.0 484.6,121.8" stroke="#006400" stroke-width="0.65" stroke-opacity="0.85"/>
<path d="M107.3,345.1H371.9L374.9,337.1L384.0,254.9L386.6,157.6C410.6,126.0 448.0,98.7 484.6,95.6" stroke="#006400" stroke-width="0.65" stroke-opacity="0.85"/>
<path d="M107.3,351.4H393.0L396.0,343.4L375.6,286.3L359.6,149.9C364.0,140.2 392.3,121.5 484.6,121.0" stroke="#006400" stroke-width="0.65" stroke-opacity="0.85"/>
<path d="M107.3,349.7H404.9L407.9,341.7L421.6,287.5L430.6,162.3C439.6,123.4 458.8,107.0 484.6,104.0" stroke="#006400" stroke-width="0.65" stroke-opacity="0.85"/>
<path d="M107.3,348.0H407.6L410.6,340.0L396.1,279.7L382.7,140.6C413.0,132.8 453.7,122.3 484.6,121.4" stroke="#556B2F" stroke-width="0.65" stroke-opacity="0.85"/>
<path d="M107.3,347.0H423.7L426.7,339.0L418.6,230.9L424.2,163.6C438.5,125.2 461.5,94.0 484.6,90.4" stroke="#006400" stroke-width="0.65" stroke-opacity="0.85"/>
<path d="M107.3,346.5H371.7L374.7,338.5L382.5,292.2L387.3,153.0C402.9,108.0 437.3,90.0 484.6,86.7" stroke="#006400" stroke-width="0.65" stroke-opacity="0.85"/>
<path d="M107.3,346.1H416.0L419.0,338.1L428.8,247.0L423.3,157.9C436.0,120.1 458.7,96.5 484.6,93.2" stroke="#556B2F" stroke-width="0.65" stroke-opacity="0.85"/>
<path d="M107.3,344.3H413.6L416.6,336.3L399.1,274.5L383.9,152.8C405.7,127.6 443.1,110.6 484.6,108.4" stroke="#006400" stroke-width="0.65" stroke-opacity="0.85"/>
<path d="M107.3,344.0H423.2L426.2,336.0L406.1,280.0L400.1,151.2C421.0,131.4 453.4,113.9 484.6,111.9" stroke="#006400" stroke-width="0.65" stroke-opacity="0.85"/>
<path d="M107.3,349.0H405.0L408.0,341.0L391.1,246.7L400.0,156.8C415.6,113.0 446.2,91.0 484.6,87.5" stroke="#556B2F" stroke-width="0.65" stroke-opacity="0.85"/>
<path d="M107.3,346.6H427.7L430.7,338.6L438.4,236.6L437.9,160.8C450.6,126.7 468.8,90.2 484.6,86.5" stroke="#556B2F" stroke-width="0.65" stroke-opacity="0.85"/>
<path d="M107.3,343.8H374.5L377.5,335.8L364.2,295.1L373.8,146.1C378.6,128.7 402.8,112.6 484.6,111.9" stroke="#006400" stroke-width="0.65" stroke-opacity="0.85"/>
<path d="M107.3,343.6H425.5L428.5,335.6L410.3,286.5L421.3,159.9C435.7,123.1 459.5,95.8 484.6,92.5" stroke="#006400" stroke-width="0.65" stroke-opacity="0.85"/>
<path d="M107.3,344.3H427.7L430.7,336.3L440.7,268.9L449.8,140.1C457.7,128.5 470.7,120.1 484.6,119.1" stroke="#556B2F" stroke-width="0.65" stroke-opacity="0.85"/>
<path d="M107.3,347.6H468.0L484.5,252.0L447.0,158.0Q455.0,130.0 484.6,118.0" stroke="#006400" stroke-width="0.7" stroke-opacity="0.85"/>
<path d="M107.3,348.2H471.0L484.5,254.0L448.2,159.5Q455.0,130.0 484.6,120.0" stroke="#006400" stroke-width="0.7" stroke-opacity="0.85"/>
<path d="M107.3,348.8H474.0L484.5,256.0L449.4,161.0Q455.0,130.0 484.6,122.0" stroke="#006400" stroke-width="0.7" stroke-opacity="0.85"/>
<path d="M107.3,349.4H477.0L484.5,258.0L450.6,162.5Q455.0,130.0 484.6,124.0" stroke="#006400" stroke-width="0.7" stroke-opacity="0.85"/>
<path d="M107.3,350.0H436.0L440.0,328.0L464.0,154.0L484.5,144.0" stroke="#006400" stroke-width="0.7" stroke-opacity="0.85"/>
<line x1="484.6" y1="34" x2="484.6" y2="350" stroke="#006400" stroke-width="0.8" stroke-opacity="0.6"/>
<rect x="107.35" y="343.2" width="262" height="9.4" fill="#006400" stroke="none"/></g>
<path d="M107.35,33.00 V411.85 H485.65" fill="none" stroke="#000" stroke-width="2.3" stroke-linejoin="miter" stroke-linecap="butt"/>
<line x1="107.35" y1="411.85" x2="107.35" y2="401.05" stroke="#000" stroke-width="2.0"/>
<line x1="233.12" y1="411.85" x2="233.12" y2="401.05" stroke="#000" stroke-width="2.0"/>
<line x1="358.89" y1="411.85" x2="358.89" y2="401.05" stroke="#000" stroke-width="2.0"/>
<line x1="484.66" y1="411.85" x2="484.66" y2="401.05" stroke="#000" stroke-width="2.0"/>
<line x1="145.21" y1="411.85" x2="145.21" y2="406.25" stroke="#000" stroke-width="2.0"/>
<line x1="167.36" y1="411.85" x2="167.36" y2="406.25" stroke="#000" stroke-width="2.0"/>
<line x1="183.07" y1="411.85" x2="183.07" y2="406.25" stroke="#000" stroke-width="2.0"/>
<line x1="195.26" y1="411.85" x2="195.26" y2="406.25" stroke="#000" stroke-width="2.0"/>
<line x1="205.22" y1="411.85" x2="205.22" y2="406.25" stroke="#000" stroke-width="2.0"/>
<line x1="213.64" y1="411.85" x2="213.64" y2="406.25" stroke="#000" stroke-width="2.0"/>
<line x1="220.93" y1="411.85" x2="220.93" y2="406.25" stroke="#000" stroke-width="2.0"/>
<line x1="227.37" y1="411.85" x2="227.37" y2="406.25" stroke="#000" stroke-width="2.0"/>
<line x1="270.98" y1="411.85" x2="270.98" y2="406.25" stroke="#000" stroke-width="2.0"/>
<line x1="293.13" y1="411.85" x2="293.13" y2="406.25" stroke="#000" stroke-width="2.0"/>
<line x1="308.84" y1="411.85" x2="308.84" y2="406.25" stroke="#000" stroke-width="2.0"/>
<line x1="321.03" y1="411.85" x2="321.03" y2="406.25" stroke="#000" stroke-width="2.0"/>
<line x1="330.99" y1="411.85" x2="330.99" y2="406.25" stroke="#000" stroke-width="2.0"/>
<line x1="339.41" y1="411.85" x2="339.41" y2="406.25" stroke="#000" stroke-width="2.0"/>
<line x1="346.70" y1="411.85" x2="346.70" y2="406.25" stroke="#000" stroke-width="2.0"/>
<line x1="353.14" y1="411.85" x2="353.14" y2="406.25" stroke="#000" stroke-width="2.0"/>
<line x1="396.75" y1="411.85" x2="396.75" y2="406.25" stroke="#000" stroke-width="2.0"/>
<line x1="418.90" y1="411.85" x2="418.90" y2="406.25" stroke="#000" stroke-width="2.0"/>
<line x1="434.61" y1="411.85" x2="434.61" y2="406.25" stroke="#000" stroke-width="2.0"/>
<line x1="446.80" y1="411.85" x2="446.80" y2="406.25" stroke="#000" stroke-width="2.0"/>
<line x1="456.76" y1="411.85" x2="456.76" y2="406.25" stroke="#000" stroke-width="2.0"/>
<line x1="465.18" y1="411.85" x2="465.18" y2="406.25" stroke="#000" stroke-width="2.0"/>
<line x1="472.47" y1="411.85" x2="472.47" y2="406.25" stroke="#000" stroke-width="2.0"/>
<line x1="478.91" y1="411.85" x2="478.91" y2="406.25" stroke="#000" stroke-width="2.0"/>
<line x1="107.35" y1="312.12" x2="117.95" y2="312.12" stroke="#000" stroke-width="2.0"/>
<line x1="107.35" y1="212.38" x2="117.95" y2="212.38" stroke="#000" stroke-width="2.0"/>
<line x1="107.35" y1="112.64" x2="117.95" y2="112.64" stroke="#000" stroke-width="2.0"/>
<line x1="137.80" y1="166.10" x2="161.90" y2="166.10" stroke="#76EE00" stroke-width="4"/>
<line x1="137.80" y1="187.95" x2="161.90" y2="187.95" stroke="#C0FF3E" stroke-width="4"/>
<line x1="137.80" y1="209.80" x2="161.90" y2="209.80" stroke="#556B2F" stroke-width="4"/>
<line x1="137.80" y1="231.65" x2="161.90" y2="231.65" stroke="#006400" stroke-width="4"/>
<g fill="none" stroke-linejoin="round"><path d="M637.5,382.7H717.7C720.0,364.3 751.8,349.2 831.4,349.2H893.5L886.1,292.3L879.1,238.4L866.6,192.5L824.3,94.4C859.4,50.6 869.9,52.1 985.0,48.4L1014.9,37.1" stroke="#ADD8E6" stroke-width="0.7"/>
<path d="M637.5,380.6H695.7C697.8,362.6 727.1,347.9 800.4,347.9H896.5L889.7,291.1L882.6,241.3L869.9,188.2L838.0,93.7C864.1,54.3 884.4,51.7 985.0,48.0L1014.9,37.6" stroke="#ADD8E6" stroke-width="0.7"/>
<path d="M637.5,388.2H715.4C717.6,367.4 748.5,350.4 825.9,350.4H891.3L885.8,289.8L876.7,239.2L864.3,191.0L822.4,89.9C864.0,47.9 866.9,50.8 985.0,47.4L1014.9,39.2" stroke="#ADD8E6" stroke-width="0.7"/>
<path d="M637.5,376.8H713.9C716.0,361.7 744.5,349.3 816.0,349.3H894.2L887.9,291.1L881.2,239.4L869.0,188.2L837.6,91.0C862.0,52.5 904.6,51.7 985.0,48.3L1014.9,42.8" stroke="#ADD8E6" stroke-width="0.7"/>
<path d="M637.5,377.7H696.4C698.5,362.4 728.0,349.9 801.7,349.9H888.0L883.0,290.7L876.3,240.8L863.7,189.6L823.0,92.4C849.2,55.1 898.7,51.8 985.0,48.3L1014.9,44.4" stroke="#ADD8E6" stroke-width="0.7"/>
<path d="M637.5,381.1H712.2C714.8,363.1 752.0,348.3 844.8,348.3H903.0L890.5,289.2L889.0,235.4L878.0,187.4L834.1,93.6C860.5,54.7 897.7,51.5 985.0,47.8L1014.9,37.6" stroke="#ADD8E6" stroke-width="0.7"/>
<path d="M637.5,382.7H715.6C718.0,363.9 751.4,348.6 835.1,348.6H888.0L883.0,289.6L876.0,237.4L862.0,190.6L822.0,94.0C857.7,49.8 885.3,52.1 985.0,48.5L1014.9,38.3" stroke="#ADD8E6" stroke-width="0.7"/>
<path d="M637.5,376.7H717.3C719.8,362.2 754.2,350.4 840.3,350.4H881.2L877.0,292.3L868.0,245.0L859.6,190.5L827.5,93.2C864.5,46.9 879.6,51.6 985.0,48.0L1014.9,43.2" stroke="#ADD8E6" stroke-width="0.7"/>
<path d="M637.5,389.0H702.5C705.0,367.6 740.5,350.1 829.1,350.1H892.0L889.1,290.8L881.8,235.8L873.6,194.9L834.1,91.4C865.7,51.9 902.1,51.5 985.0,48.0L1014.9,37.8" stroke="#ADD8E6" stroke-width="0.7"/>
<path d="M637.5,387.6H708.0C710.3,366.1 742.3,348.4 822.3,348.4H897.9L887.5,294.2L880.2,235.1L867.4,191.8L828.9,94.0C859.1,47.0 879.7,51.6 985.0,47.9L1014.9,43.0" stroke="#ADD8E6" stroke-width="0.7"/>
<path d="M637.5,382.2H714.2C716.8,364.6 753.7,350.2 845.7,350.2H887.0L884.3,286.4L880.5,243.4L870.4,192.1L825.3,90.3C852.9,53.6 880.6,51.0 985.0,47.6L1014.9,42.6" stroke="#ADD8E6" stroke-width="0.7"/>
<path d="M637.5,381.7H715.2C717.9,363.7 755.5,349.0 849.5,349.0H895.4L890.2,291.7L883.7,238.5L868.1,186.2L835.4,89.6C860.6,54.8 873.8,51.5 985.0,48.2L1014.9,42.7" stroke="#ADD8E6" stroke-width="0.7"/>
<path d="M637.5,383.0H709.7C712.2,365.1 747.8,350.4 836.9,350.4H891.8L886.7,286.1L879.0,241.7L865.4,188.2L832.1,92.1C867.4,52.2 899.2,51.4 985.0,47.8L1014.9,45.2" stroke="#ADD8E6" stroke-width="0.7"/>
<path d="M637.5,377.6H711.7C713.7,361.9 741.7,349.0 811.9,349.0H893.1L893.2,290.7L886.7,243.0L871.8,189.6L828.2,93.1C862.2,49.2 874.8,51.8 985.0,48.2L1014.9,45.1" stroke="#ADD8E6" stroke-width="0.7"/>
<path d="M637.5,389.2H706.1C708.6,366.9 744.1,348.7 832.7,348.7H899.0L893.6,285.8L889.0,240.5L869.8,189.9L838.0,89.8C861.6,52.9 902.4,51.5 985.0,48.2L1014.9,38.3" stroke="#ADD8E6" stroke-width="0.7"/>
<path d="M637.5,377.2H711.7C714.3,362.1 750.3,349.7 840.3,349.7H903.0L891.8,285.9L885.2,240.3L878.0,192.3L837.4,93.7C863.6,52.4 904.1,51.4 985.0,47.8L1014.9,45.1" stroke="#ADD8E6" stroke-width="0.7"/>
<path d="M637.5,384.0H719.1C721.4,364.9 753.8,349.3 835.0,349.3H885.5L877.0,291.1L872.4,244.7L864.4,189.0L826.0,92.0C849.5,50.8 881.1,51.5 985.0,48.0L1014.9,45.6" stroke="#ADD8E6" stroke-width="0.7"/>
<path d="M637.5,388.0H704.2C706.2,366.5 734.2,349.0 804.3,349.0H898.6L889.0,288.2L889.0,241.2L877.6,186.3L828.9,90.5C863.7,52.2 880.8,50.6 985.0,47.2L1014.9,42.6" stroke="#ADD8E6" stroke-width="0.7"/>
<path d="M637.5,377.4H693.7C696.0,361.5 728.3,348.5 809.1,348.5H884.5L879.8,288.8L868.0,240.3L862.1,187.0L826.9,92.1C860.7,47.8 874.7,51.8 985.0,48.2L1014.9,43.7" stroke="#ADD8E6" stroke-width="0.7"/>
<path d="M637.5,389.0H699.5C701.6,367.7 731.8,350.3 807.1,350.3H890.9L878.2,286.3L869.6,242.3L865.2,186.0L824.5,93.4C854.7,48.4 864.5,50.7 985.0,47.0L1014.9,38.8" stroke="#ADD8E6" stroke-width="0.7"/>
<path d="M637.5,384.2H719.1C721.0,364.9 748.9,349.2 818.7,349.2H900.1L886.5,286.9L878.1,236.1L872.9,190.5L835.0,90.2C859.7,46.8 908.1,50.6 985.0,47.1L1014.9,45.3" stroke="#ADD8E6" stroke-width="0.7"/>
<path d="M637.5,376.8H718.5C720.8,362.0 752.6,349.9 832.0,349.9H888.4L884.4,289.3L877.4,235.1L859.0,193.4L826.6,93.2C852.5,54.5 885.3,51.1 985.0,47.5L1014.9,37.1" stroke="#ADD8E6" stroke-width="0.7"/>
<path d="M637.5,388.9H711.1C713.7,367.2 750.0,349.5 840.6,349.5H890.0L888.2,294.8L881.7,237.6L868.6,192.4L832.5,91.5C870.0,49.5 898.5,51.8 985.0,48.3L1014.9,43.9" stroke="#ADD8E6" stroke-width="0.7"/>
<path d="M637.5,383.4H692.1C694.3,364.5 724.7,349.1 800.8,349.1H894.8L889.2,287.9L880.7,241.3L867.3,191.3L832.6,91.4C865.7,49.6 898.4,51.9 985.0,48.5L1014.9,45.8" stroke="#ADD8E6" stroke-width="0.7"/>
<path d="M637.5,377.3H712.2C714.3,361.7 743.7,348.9 817.4,348.9H890.6L887.0,288.0L879.0,240.4L865.2,193.7L834.3,92.7C856.8,50.4 899.3,51.7 985.0,48.2L1014.9,37.4" stroke="#ADD8E6" stroke-width="0.7"/>
<path d="M637.5,387.9H704.2C706.2,366.6 734.7,349.1 805.9,349.1H897.2L890.8,290.2L883.0,238.9L869.7,191.2L834.4,93.1C855.7,53.5 872.8,51.0 985.0,47.3L1014.9,38.4" stroke="#ADD8E6" stroke-width="0.7"/>
<path d="M637.5,388.2H716.9C719.4,366.1 754.4,347.9 841.9,347.9H897.1L895.0,294.1L889.0,239.8L878.0,187.4L838.0,93.1C875.8,47.5 895.8,51.2 985.0,47.6L1014.9,38.0" stroke="#ADD8E6" stroke-width="0.7"/>
<path d="M637.5,382.3H696.1C698.1,364.1 725.2,349.2 793.2,349.2H894.5L888.5,288.1L882.0,239.4L868.5,190.2L838.0,93.2C860.6,46.3 902.3,50.9 985.0,47.2L1014.9,42.6" stroke="#ADD8E6" stroke-width="0.7"/>
<path d="M637.5,381.5H710.6C712.9,363.8 745.8,349.4 828.1,349.4H890.8L894.5,287.5L886.1,244.2L864.1,185.4L829.2,91.6C852.9,50.7 870.1,51.4 985.0,47.9L1014.9,37.8" stroke="#ADD8E6" stroke-width="0.7"/>
<path d="M637.5,382.7H708.9C711.1,364.2 741.9,349.1 818.9,349.1H896.5L888.0,286.6L882.3,242.5L867.3,192.2L832.9,90.8C861.0,49.8 907.1,51.6 985.0,48.2L1014.9,39.9" stroke="#ADD8E6" stroke-width="0.7"/>
<path d="M637.5,383.5H717.6C719.9,364.4 751.3,348.8 829.7,348.8H881.0L879.6,285.8L872.4,239.8L861.8,188.0L822.0,90.6C846.4,53.1 890.9,51.3 985.0,47.9L1014.9,43.2" stroke="#ADD8E6" stroke-width="0.7"/>
<path d="M637.5,380.9H700.7C703.2,363.2 737.9,348.8 824.8,348.8H884.5L884.2,294.2L869.7,244.1L856.0,193.0L822.0,91.5C862.3,54.1 876.4,51.8 985.0,48.4L1014.9,40.3" stroke="#ADD8E6" stroke-width="0.7"/>
<path d="M637.5,382.0H701.6C703.7,364.0 732.5,349.3 804.4,349.3H903.0L888.5,290.6L889.0,242.6L867.2,187.8L835.0,92.2C873.4,49.4 901.3,51.3 985.0,47.8L1014.9,37.6" stroke="#ADD8E6" stroke-width="0.7"/>
<path d="M637.5,383.7H692.5C694.5,365.0 722.0,349.8 790.8,349.8H893.3L888.4,292.0L880.4,238.0L867.1,192.1L835.5,91.5C873.8,48.8 890.2,50.9 985.0,47.4L1014.9,41.8" stroke="#ADD8E6" stroke-width="0.7"/>
<path d="M637.5,388.7H717.4C719.7,367.4 750.9,350.0 828.9,350.0H899.7L894.1,293.3L883.8,244.6L873.4,190.2L836.5,91.6C859.9,48.2 909.0,51.0 985.0,47.5L1014.9,40.4" stroke="#ADD8E6" stroke-width="0.7"/>
<path d="M637.5,381.2H702.7C704.9,364.3 734.8,350.4 809.4,350.4H889.6L883.1,292.2L876.8,236.5L863.9,190.7L822.0,90.0C849.1,53.0 890.6,50.5 985.0,47.1L1014.9,42.4" stroke="#ADD8E6" stroke-width="0.7"/>
<path d="M637.5,381.1H698.4C700.5,363.9 729.0,349.8 800.3,349.8H892.0L880.2,289.8L879.8,243.9L863.5,188.4L832.8,91.9C855.0,45.7 900.0,50.8 985.0,47.2L1014.9,40.5" stroke="#ADD8E6" stroke-width="0.7"/>
<path d="M637.5,382.5H698.2C700.9,364.4 738.6,349.6 832.8,349.6H892.3L887.3,292.4L879.0,240.8L865.4,187.3L826.5,93.8C860.8,45.7 875.7,51.4 985.0,47.7L1014.9,41.8" stroke="#ADD8E6" stroke-width="0.7"/>
<path d="M637.5,383.6H690.0C692.6,365.2 728.4,350.1 817.9,350.1H891.3L885.1,286.8L879.3,239.7L865.0,190.7L823.8,93.4C864.1,55.4 895.9,51.2 985.0,47.5L1014.9,38.9" stroke="#ADD8E6" stroke-width="0.7"/>
<path d="M637.5,382.6H694.7C697.3,363.9 733.2,348.6 823.0,348.6H891.0L885.1,291.7L877.5,241.5L864.4,189.2L832.9,93.6C854.4,52.6 896.6,51.6 985.0,47.9L1014.9,39.1" stroke="#ADD8E6" stroke-width="0.7"/>
<path d="M637.5,382.3H690.3C693.0,364.5 730.7,350.0 825.0,350.0H882.8L881.4,288.8L870.3,238.0L862.7,188.9L822.2,90.5C851.4,46.7 884.5,51.4 985.0,48.0L1014.9,43.5" stroke="#ADD8E6" stroke-width="0.7"/>
<path d="M637.5,383.9H692.8C694.8,364.2 723.0,348.1 793.4,348.1H891.7L893.7,289.0L877.1,240.9L866.4,187.3L828.0,91.5C867.3,51.0 886.2,50.5 985.0,46.9L1014.9,42.8" stroke="#ADD8E6" stroke-width="0.7"/>
<path d="M637.5,388.9H701.6C703.7,366.9 734.1,348.9 809.8,348.9H896.4L889.0,292.3L880.4,240.9L867.2,188.6L835.1,90.0C865.3,47.7 902.1,50.8 985.0,47.4L1014.9,42.5" stroke="#ADD8E6" stroke-width="0.7"/>
<path d="M637.5,383.6H717.1C719.4,364.4 752.2,348.8 834.0,348.8H896.6L889.2,290.1L881.0,242.7L868.0,193.6L829.5,89.9C862.1,48.4 880.2,50.6 985.0,47.2L1014.9,45.4" stroke="#ADD8E6" stroke-width="0.7"/>
<path d="M637.5,382.3H693.7C696.4,363.5 733.9,348.2 827.7,348.2H901.7L891.5,290.6L889.0,244.1L877.2,193.2L831.6,93.6C869.6,53.6 890.8,51.0 985.0,47.3L1014.9,44.5" stroke="#ADD8E6" stroke-width="0.7"/>
<path d="M637.5,382.7H692.3C694.2,363.8 721.2,348.3 788.6,348.3H903.0L896.0,288.1L887.2,242.4L878.0,190.9L831.6,90.5C855.7,51.9 890.6,51.0 985.0,47.6L1014.9,38.6" stroke="#ADD8E6" stroke-width="0.7"/>
<path d="M637.5,381.4H707.0C709.2,363.9 739.5,349.5 815.3,349.5H881.0L878.9,294.6L868.0,239.7L859.3,191.2L825.9,93.3C867.2,47.3 898.2,51.3 985.0,47.6L1014.9,40.7" stroke="#ADD8E6" stroke-width="0.7"/>
<path d="M637.5,382.7H717.2C719.5,364.3 752.0,349.2 833.2,349.2H888.1L887.8,285.5L880.0,244.0L868.8,191.0L826.4,92.5C851.0,50.9 884.8,50.6 985.0,46.9L1014.9,40.6" stroke="#ADD8E6" stroke-width="0.7"/>
<path d="M637.5,377.4H725.6C727.8,361.6 758.7,348.6 836.1,348.6H919.3L914.2,293.7L902.4,242.9L887.0,192.4L840.3,92.3C866.8,52.6 888.3,55.6 1014.9,52.4" stroke="#AB82FF" stroke-width="0.7"/>
<path d="M637.5,384.4H704.0C706.2,364.7 737.3,348.6 814.8,348.6H928.9L921.5,289.2L909.6,240.7L897.0,186.2L847.9,92.0C890.8,55.8 897.2,55.8 1014.9,52.6" stroke="#AB82FF" stroke-width="0.7"/>
<path d="M637.5,384.3H740.8C742.9,365.5 773.4,350.1 849.6,350.1H912.4L919.7,293.8L905.1,237.0L894.3,186.9L836.0,90.0C867.8,50.5 917.9,54.4 1014.9,51.4" stroke="#AB82FF" stroke-width="0.7"/>
<path d="M637.5,380.9H732.5C735.3,363.3 774.1,349.0 871.0,349.0H921.4L915.1,287.6L905.6,237.9L889.7,192.3L843.0,93.9C871.8,55.8 924.1,54.0 1014.9,50.5" stroke="#AB82FF" stroke-width="0.7"/>
<path d="M637.5,381.5H730.2C732.3,364.4 761.6,350.5 834.8,350.5H920.8L916.5,285.5L902.1,237.8L883.4,193.0L840.3,93.3C870.6,51.3 891.0,52.1 1014.9,48.5" stroke="#AB82FF" stroke-width="0.7"/>
<path d="M637.5,389.2H705.4C707.8,367.5 741.2,349.8 824.8,349.8H918.8L914.8,286.8L902.3,241.4L893.5,191.6L842.4,92.0C880.7,54.8 924.9,55.3 1014.9,52.1" stroke="#AB82FF" stroke-width="0.7"/>
<path d="M637.5,383.7H710.8C713.3,364.3 748.4,348.4 836.1,348.4H925.1L911.9,292.9L901.7,239.9L890.3,190.8L837.1,92.5C874.2,50.7 888.5,54.6 1014.9,51.3" stroke="#AB82FF" stroke-width="0.7"/>
<path d="M637.5,380.4H724.3C726.7,363.1 759.9,349.0 842.7,349.0H908.2L912.4,294.1L905.2,240.4L879.4,187.4L837.8,89.7C875.8,51.7 892.7,52.2 1014.9,48.9" stroke="#AB82FF" stroke-width="0.7"/>
<path d="M637.5,380.7H737.6C739.8,363.0 770.0,348.5 845.5,348.5H918.0L906.0,292.9L897.6,239.1L890.4,187.2L836.0,91.9C882.2,58.0 899.8,54.8 1014.9,51.6" stroke="#AB82FF" stroke-width="0.7"/>
<path d="M637.5,387.7H713.9C716.6,365.9 754.8,348.2 850.5,348.2H920.6L918.7,286.3L906.9,242.1L890.5,187.8L843.5,90.7C886.6,54.1 899.6,53.0 1014.9,49.8" stroke="#AB82FF" stroke-width="0.7"/>
<path d="M637.5,388.6H705.6C708.0,367.1 740.8,349.6 822.7,349.6H926.6L921.1,290.7L908.6,239.7L893.6,192.7L850.7,90.6C877.3,51.7 897.5,52.4 1014.9,49.1" stroke="#AB82FF" stroke-width="0.7"/>
<path d="M637.5,381.2H723.2C725.4,363.5 757.2,349.0 836.5,349.0H936.0L925.4,287.0L917.0,235.7L902.0,188.6L845.7,90.4C877.4,47.5 916.8,51.9 1014.9,48.6" stroke="#AB82FF" stroke-width="0.7"/>
<path d="M637.5,381.9H710.3C713.1,363.7 751.8,348.8 848.8,348.8H936.0L919.8,285.2L906.8,238.8L896.5,193.8L851.7,92.1C882.3,53.4 893.3,50.9 1014.9,47.3" stroke="#AB82FF" stroke-width="0.7"/>
<path d="M637.5,382.9H705.3C707.6,364.2 739.4,348.9 818.8,348.9H924.6L920.6,291.8L908.2,237.2L894.7,188.2L846.1,91.4C874.3,57.0 901.7,55.3 1014.9,52.2" stroke="#AB82FF" stroke-width="0.7"/>
<path d="M637.5,380.5H705.0C707.5,363.3 742.9,349.3 831.2,349.3H927.3L927.0,291.7L915.4,237.2L906.0,191.7L852.0,90.7C876.6,54.4 907.6,54.0 1014.9,50.8" stroke="#AB82FF" stroke-width="0.7"/>
<path d="M637.5,377.1H717.5C719.9,361.4 753.7,348.6 838.3,348.6H921.5L917.0,291.3L906.3,236.7L890.7,189.4L844.7,93.0C882.8,58.3 902.7,53.7 1014.9,50.3" stroke="#AB82FF" stroke-width="0.7"/>
<path d="M637.5,380.6H720.6C722.6,363.3 751.5,349.1 823.8,349.1H921.5L912.3,287.5L913.2,238.5L890.4,190.7L847.5,90.4C883.3,48.4 903.4,53.1 1014.9,49.8" stroke="#AB82FF" stroke-width="0.7"/>
<path d="M637.5,384.4H735.6C738.2,365.2 773.5,349.5 861.7,349.5H921.5L915.4,293.0L903.4,243.3L889.8,187.1L838.0,91.3C865.9,58.5 891.2,55.9 1014.9,52.9" stroke="#AB82FF" stroke-width="0.7"/>
<path d="M637.5,381.3H704.0C706.5,363.5 740.9,348.9 826.8,348.9H917.2L912.6,290.5L905.2,240.6L881.9,194.7L837.9,93.9C877.9,50.1 911.0,52.5 1014.9,48.9" stroke="#AB82FF" stroke-width="0.7"/>
<path d="M637.5,388.9H710.5C713.1,367.0 748.3,349.1 836.4,349.1H921.3L915.1,290.3L904.3,238.0L889.9,187.4L836.0,89.8C863.2,48.5 884.8,50.8 1014.9,47.4" stroke="#AB82FF" stroke-width="0.7"/>
<path d="M637.5,383.6H723.7C725.9,365.2 756.0,350.1 831.2,350.1H920.1L915.2,292.4L903.8,241.7L889.0,191.7L837.9,93.3C880.3,54.4 899.5,55.4 1014.9,52.1" stroke="#AB82FF" stroke-width="0.7"/>
<path d="M637.5,383.0H738.1C740.7,363.8 778.0,348.1 871.1,348.1H914.0L907.8,286.8L909.5,240.9L882.4,194.7L844.4,91.6C876.4,49.6 927.5,54.1 1014.9,50.8" stroke="#AB82FF" stroke-width="0.7"/>
<path d="M637.5,377.4H708.9C710.9,361.6 739.7,348.6 811.5,348.6H922.1L915.4,288.3L911.1,240.4L895.3,188.7L851.5,93.7C882.1,50.8 922.2,52.3 1014.9,48.7" stroke="#AB82FF" stroke-width="0.7"/>
<path d="M637.5,388.2H732.5C734.9,367.2 769.3,350.0 855.3,350.0H919.8L914.0,288.0L902.5,237.0L888.3,186.2L836.0,92.6C865.9,52.1 895.9,52.2 1014.9,48.6" stroke="#AB82FF" stroke-width="0.7"/>
<path d="M637.5,380.5H706.6C709.4,363.0 747.7,348.6 843.3,348.6H924.6L918.9,287.6L906.6,239.9L891.5,192.5L838.1,92.3C876.0,56.2 922.1,54.2 1014.9,50.9" stroke="#AB82FF" stroke-width="0.7"/>
<path d="M637.5,389.2H722.2C724.9,367.5 762.5,349.8 856.5,349.8H917.7L914.3,286.6L903.1,242.0L887.2,190.1L836.0,94.3C872.4,47.1 914.6,50.8 1014.9,47.1" stroke="#AB82FF" stroke-width="0.7"/>
<path d="M637.5,388.2H736.9C739.6,367.1 777.2,349.9 871.0,349.9H928.1L921.8,291.6L910.1,243.3L895.7,190.6L849.8,91.3C889.0,55.2 916.0,54.2 1014.9,50.9" stroke="#AB82FF" stroke-width="0.7"/>
<path d="M637.5,381.5H741.1C743.4,363.1 775.3,348.1 855.0,348.1H912.5L913.6,292.4L899.0,241.8L881.4,186.1L839.4,91.7C874.6,51.4 896.2,50.6 1014.9,47.1" stroke="#AB82FF" stroke-width="0.7"/>
<path d="M637.5,384.4H712.4C715.1,364.7 753.3,348.7 848.6,348.7H928.6L922.0,293.7L912.0,239.3L896.2,187.4L852.0,94.2C878.4,53.8 931.4,52.6 1014.9,48.9" stroke="#AB82FF" stroke-width="0.7"/>
<path d="M637.5,377.3H719.5C722.0,361.4 757.5,348.4 846.3,348.4H931.2L919.0,291.3L904.1,240.7L898.4,193.4L845.3,92.8C876.8,55.5 911.8,53.0 1014.9,49.5" stroke="#AB82FF" stroke-width="0.7"/>
<path d="M637.5,382.5H705.3C707.8,364.1 743.1,349.0 831.4,349.0H931.9L918.1,286.5L911.5,244.9L898.6,188.1L851.8,91.5C877.1,50.5 911.4,55.3 1014.9,52.2" stroke="#AB82FF" stroke-width="0.7"/>
<path d="M637.5,383.9H730.6C733.4,365.3 772.2,350.0 869.1,350.0H936.0L927.0,285.6L909.6,242.1L899.6,193.1L849.2,93.8C878.0,50.0 892.8,51.8 1014.9,48.2" stroke="#AB82FF" stroke-width="0.7"/>
<path d="M637.5,383.7H724.1C726.3,365.1 757.3,350.0 834.8,350.0H932.8L927.0,294.1L912.3,236.5L894.2,186.0L847.7,93.8C873.5,58.2 904.6,55.3 1014.9,52.0" stroke="#AB82FF" stroke-width="0.7"/>
<path d="M637.5,388.6H741.0C743.1,367.6 772.1,350.5 844.8,350.5H920.1L906.5,292.3L899.5,241.7L881.1,185.2L836.9,92.6C874.7,49.9 888.4,52.2 1014.9,48.7" stroke="#AB82FF" stroke-width="0.7"/>
<path d="M637.5,377.4H723.1C725.2,361.3 755.0,348.1 829.3,348.1H932.0L927.0,287.0L917.0,241.9L901.2,188.6L849.9,90.2C881.4,50.7 906.8,53.9 1014.9,50.8" stroke="#AB82FF" stroke-width="0.7"/>
<path d="M637.5,382.5H742.6C744.9,364.4 777.1,349.7 857.5,349.7H911.0L908.2,293.7L903.2,243.5L891.9,189.5L838.3,93.2C872.5,58.2 899.7,54.0 1014.9,50.6" stroke="#AB82FF" stroke-width="0.7"/>
<path d="M637.5,382.2H743.1C745.4,364.3 777.0,349.7 855.9,349.7H920.6L916.4,293.2L905.6,239.4L892.2,192.6L843.7,92.2C886.1,55.3 900.9,51.2 1014.9,47.6" stroke="#AB82FF" stroke-width="0.7"/>
<path d="M637.5,383.4H731.4C733.7,365.2 765.9,350.2 846.2,350.2H924.5L919.2,288.9L908.8,238.5L894.7,190.8L852.0,94.5C891.0,51.1 919.9,53.0 1014.9,49.4" stroke="#AB82FF" stroke-width="0.7"/>
<path d="M637.5,387.7H723.0C725.3,366.7 758.1,349.6 840.0,349.6H909.2L906.1,288.7L903.6,238.9L878.5,185.8L841.4,92.6C871.0,51.4 915.0,54.7 1014.9,51.5" stroke="#AB82FF" stroke-width="0.7"/>
<path d="M637.5,387.8H723.2C725.2,367.1 753.7,350.1 824.8,350.1H926.5L926.3,288.5L910.9,240.3L901.1,192.9L851.2,90.1C876.7,57.2 911.9,53.6 1014.9,50.4" stroke="#AB82FF" stroke-width="0.7"/>
<path d="M637.5,383.6H714.1C716.5,364.0 749.4,347.9 831.7,347.9H915.1L915.0,289.6L905.0,236.0L892.0,186.5L839.8,91.5C882.5,49.2 900.4,53.9 1014.9,50.7" stroke="#AB82FF" stroke-width="0.7"/>
<path d="M637.5,376.9H737.6C740.2,361.9 776.7,349.7 867.9,349.7H908.0L906.8,286.1L901.1,244.7L878.0,193.5L837.4,89.9C864.7,47.5 895.2,51.9 1014.9,48.6" stroke="#AB82FF" stroke-width="0.7"/>
<path d="M637.5,383.1H740.4C743.1,364.5 782.0,349.3 879.2,349.3H920.3L919.5,288.0L904.9,237.6L891.6,189.3L842.2,91.7C867.4,49.5 887.1,53.1 1014.9,49.7" stroke="#AB82FF" stroke-width="0.7"/>
<path d="M637.5,382.7H720.4C722.6,363.6 753.4,348.1 830.3,348.1H921.8L917.8,292.0L906.6,236.1L890.4,193.7L844.9,94.3C880.9,53.9 899.1,52.8 1014.9,49.2" stroke="#AB82FF" stroke-width="0.7"/>
<path d="M637.5,382.8H716.9C719.3,364.3 753.2,349.2 837.8,349.2H917.2L914.8,288.2L904.0,239.4L887.3,189.2L839.8,89.9C881.8,57.1 896.3,55.9 1014.9,52.9" stroke="#AB82FF" stroke-width="0.7"/>
<path d="M637.5,388.9H730.3C732.4,367.4 761.3,349.9 833.6,349.9H910.2L908.8,294.3L902.5,235.2L880.7,192.5L836.0,93.2C875.6,47.7 920.0,53.0 1014.9,49.5" stroke="#AB82FF" stroke-width="0.7"/>
<path d="M637.5,377.5H722.1C724.7,361.7 761.4,348.8 853.1,348.8H917.8L913.0,291.9L904.2,236.9L888.3,191.3L836.0,90.1C881.5,51.3 920.3,52.2 1014.9,48.9" stroke="#AB82FF" stroke-width="0.7"/>
<path d="M637.5,382.1H726.0C728.7,363.4 766.4,348.1 860.6,348.1H924.6L922.8,289.3L917.0,241.7L905.6,189.9L848.5,93.4C886.7,54.6 913.2,51.3 1014.9,47.6" stroke="#AB82FF" stroke-width="0.7"/>
<path d="M637.5,381.8H726.9C729.3,364.0 763.2,349.4 847.9,349.4H958.5L950.0,288.9L939.2,239.8L920.3,188.6L855.9,90.8C889.2,59.2 897.4,57.3 1014.9,54.4" stroke="#A020F0" stroke-width="0.7"/>
<path d="M637.5,388.2H750.1C752.6,366.9 787.4,349.5 874.4,349.5H963.8L949.1,289.6L940.4,237.3L917.5,186.0L866.4,89.7C901.3,70.1 957.5,55.9 1014.9,54.1" stroke="#A020F0" stroke-width="0.7"/>
<path d="M637.5,381.7H726.4C729.3,364.2 769.9,349.9 871.4,349.9H958.8L951.9,287.6L938.7,240.9L922.1,192.1L870.0,94.1C899.6,69.2 953.0,56.1 1014.9,54.0" stroke="#A020F0" stroke-width="0.7"/>
<path d="M637.5,388.7H732.2C735.0,367.3 774.6,349.8 873.5,349.8H949.4L944.0,288.0L932.0,238.0L914.0,189.9L848.0,90.9C888.9,58.3 924.0,55.4 1014.9,52.3" stroke="#A020F0" stroke-width="0.7"/>
<path d="M637.5,388.6H742.8C745.6,366.9 783.7,349.2 879.2,349.2H964.4L945.6,287.6L937.3,244.4L919.0,192.9L861.7,91.4C900.5,57.1 920.5,57.4 1014.9,54.4" stroke="#A020F0" stroke-width="0.7"/>
<path d="M637.5,381.3H759.9C762.1,364.3 793.3,350.3 871.3,350.3H960.0L951.9,290.5L940.4,243.9L921.7,193.0L870.0,89.8C904.1,66.7 959.0,49.9 1014.9,47.8" stroke="#A020F0" stroke-width="0.7"/>
<path d="M637.5,388.7H755.9C758.7,367.0 797.4,349.2 894.3,349.2H938.0L937.0,290.3L924.0,240.0L906.7,192.1L849.5,89.9C883.7,50.7 912.7,55.1 1014.9,52.1" stroke="#A020F0" stroke-width="0.7"/>
<path d="M637.5,377.0H734.1C736.8,362.3 774.6,350.3 869.2,350.3H970.0L959.0,293.6L946.3,235.2L932.0,190.9L870.0,92.6C893.6,66.5 945.0,58.2 1014.9,56.4" stroke="#A020F0" stroke-width="0.7"/>
<path d="M637.5,384.4H721.3C723.6,365.6 754.8,350.1 832.8,350.1H950.8L944.4,291.5L933.1,240.6L914.0,192.5L848.0,93.5C888.1,60.3 902.6,59.7 1014.9,56.8" stroke="#A020F0" stroke-width="0.7"/>
<path d="M637.5,380.4H752.3C754.7,363.3 787.6,349.4 869.8,349.4H958.3L951.9,287.9L937.7,237.4L920.7,188.0L867.8,91.2C904.3,69.6 960.6,51.8 1014.9,49.8" stroke="#A020F0" stroke-width="0.7"/>
<path d="M637.5,382.5H730.7C733.5,363.7 773.3,348.3 872.8,348.3H954.6L948.2,291.4L934.0,240.3L916.5,192.1L850.3,91.6C880.7,60.6 927.4,59.7 1014.9,56.9" stroke="#A020F0" stroke-width="0.7"/>
<path d="M637.5,388.2H725.7C728.5,367.2 767.3,349.9 864.3,349.9H946.5L945.7,287.9L931.4,242.4L907.2,193.2L855.4,91.4C895.3,55.0 902.5,51.6 1014.9,48.1" stroke="#A020F0" stroke-width="0.7"/>
<path d="M637.5,389.1H759.1C761.5,367.8 795.3,350.3 879.8,350.3H951.1L937.0,286.9L932.5,241.8L916.7,192.3L850.3,91.4C878.7,47.3 893.5,52.1 1014.9,48.6" stroke="#A020F0" stroke-width="0.7"/>
<path d="M637.5,381.8H722.1C724.5,363.4 757.9,348.3 841.3,348.3H942.7L943.2,290.7L933.0,240.3L906.0,185.8L848.0,91.0C889.9,57.4 895.4,57.6 1014.9,54.7" stroke="#A020F0" stroke-width="0.7"/>
<path d="M637.5,382.7H732.4C735.1,365.0 774.0,350.4 871.1,350.4H959.4L943.0,289.7L941.2,244.4L922.1,185.2L856.4,89.8C881.9,49.8 903.4,52.3 1014.9,49.0" stroke="#A020F0" stroke-width="0.7"/>
<path d="M637.5,376.9H753.6C756.1,361.9 791.7,349.6 880.5,349.6H949.0L944.0,286.3L932.0,241.0L914.5,189.8L848.0,91.3C883.0,59.2 911.0,58.7 1014.9,55.9" stroke="#A020F0" stroke-width="0.7"/>
<path d="M637.5,381.7H758.4C760.7,364.5 793.3,350.3 874.7,350.3H958.8L959.0,290.1L939.1,237.9L924.0,192.2L868.2,90.3C896.5,68.3 949.9,58.2 1014.9,56.5" stroke="#A020F0" stroke-width="0.7"/>
<path d="M637.5,377.4H734.6C737.2,361.9 773.4,349.1 864.0,349.1H965.2L957.3,285.0L946.2,237.7L929.4,191.3L861.1,92.0C894.5,50.6 909.3,55.3 1014.9,52.1" stroke="#A020F0" stroke-width="0.7"/>
<path d="M637.5,380.7H753.6C755.9,363.8 788.5,350.0 870.0,350.0H961.7L953.2,289.4L941.0,243.6L922.4,189.9L870.0,92.0C896.0,63.9 948.1,52.8 1014.9,50.8" stroke="#A020F0" stroke-width="0.7"/>
<path d="M637.5,383.9H753.7C756.7,365.4 797.6,350.3 899.9,350.3H964.0L956.0,293.1L944.1,236.8L919.8,188.0L870.0,89.6C899.2,66.1 952.4,54.2 1014.9,52.4" stroke="#A020F0" stroke-width="0.7"/>
<path d="M637.5,388.6H758.3C761.1,367.1 801.6,349.5 902.6,349.5H938.0L943.3,294.8L924.0,238.1L911.7,191.9L858.0,92.6C893.6,56.5 929.8,52.2 1014.9,48.7" stroke="#A020F0" stroke-width="0.7"/>
<path d="M637.5,388.9H756.7C759.3,367.7 795.6,350.3 886.5,350.3H956.2L944.8,288.5L942.8,236.6L925.0,187.3L866.9,93.0C896.1,67.0 950.3,54.4 1014.9,52.4" stroke="#A020F0" stroke-width="0.7"/>
<path d="M637.5,381.1H747.2C749.9,364.2 787.5,350.3 881.7,350.3H956.5L950.2,287.9L938.0,241.2L912.0,192.7L851.4,92.1C875.0,51.6 912.9,55.3 1014.9,52.1" stroke="#A020F0" stroke-width="0.7"/>
<path d="M637.5,383.5H730.5C732.8,364.7 765.0,349.4 845.5,349.4H949.0L944.8,288.8L933.1,243.6L914.4,189.3L848.0,91.9C873.8,59.8 916.9,59.4 1014.9,56.6" stroke="#A020F0" stroke-width="0.7"/>
<path d="M637.5,388.5H746.9C749.8,367.4 790.3,350.2 891.5,350.2H955.6L938.4,290.3L924.0,242.7L913.3,186.5L849.5,93.1C879.0,54.8 916.3,57.5 1014.9,54.4" stroke="#A020F0" stroke-width="0.7"/>
<path d="M637.5,382.3H738.2C740.4,364.0 771.5,349.1 849.4,349.1H960.0L955.0,285.7L945.1,241.9L929.7,186.3L870.0,93.2C905.9,71.3 961.3,53.4 1014.9,51.3" stroke="#A020F0" stroke-width="0.7"/>
<path d="M637.5,382.9H721.9C724.7,363.8 762.6,348.1 857.4,348.1H938.0L937.0,285.7L924.0,239.7L912.9,194.5L849.0,92.4C891.8,57.4 902.0,53.9 1014.9,50.5" stroke="#A020F0" stroke-width="0.7"/>
<path d="M637.5,384.0H741.4C743.8,364.7 778.4,348.9 864.8,348.9H961.0L951.5,289.6L939.8,239.5L922.3,188.5L863.8,91.0C893.2,57.7 933.4,57.7 1014.9,54.8" stroke="#A020F0" stroke-width="0.7"/>
<path d="M637.5,381.9H757.7C760.6,364.3 801.5,349.9 903.8,349.9H955.5L948.8,288.0L935.4,244.5L915.4,191.7L859.5,90.6C891.3,53.4 910.6,57.7 1014.9,54.8" stroke="#A020F0" stroke-width="0.7"/>
<path d="M637.5,380.4H737.5C740.2,362.8 778.8,348.5 875.1,348.5H956.7L949.2,287.6L936.2,236.5L919.0,192.6L854.8,92.5C891.9,54.8 916.8,57.3 1014.9,54.3" stroke="#A020F0" stroke-width="0.7"/>
<path d="M637.5,383.3H743.6C746.1,365.3 782.2,350.5 872.3,350.5H939.0L945.9,292.3L928.1,237.7L909.5,190.3L848.0,92.6C884.7,60.5 921.8,58.9 1014.9,56.0" stroke="#A020F0" stroke-width="0.7"/>
<path d="M637.5,380.9H745.4C748.0,363.5 783.1,349.2 870.9,349.2H970.0L959.0,288.5L944.0,235.8L932.0,191.9L870.0,91.4C899.5,65.6 952.8,52.2 1014.9,50.1" stroke="#A020F0" stroke-width="0.7"/>
<path d="M637.5,380.4H735.7C738.4,362.7 775.7,348.2 869.0,348.2H956.3L939.6,287.5L925.4,236.2L917.8,192.9L850.7,91.9C874.2,54.0 925.5,57.1 1014.9,54.1" stroke="#A020F0" stroke-width="0.7"/>
<path d="M637.5,383.3H749.4C751.8,365.1 785.5,350.2 869.9,350.2H941.4L945.9,289.4L930.5,240.7L907.4,194.9L848.0,92.6C890.7,53.8 906.9,52.4 1014.9,48.9" stroke="#A020F0" stroke-width="0.7"/>
<path d="M637.5,383.9H758.4C761.1,364.3 798.7,348.3 892.5,348.3H943.9L949.7,293.8L930.3,237.3L918.6,187.3L848.0,93.0C888.2,50.9 912.7,51.7 1014.9,48.1" stroke="#A020F0" stroke-width="0.7"/>
<path d="M637.5,376.7H734.8C737.8,361.7 778.7,349.4 881.2,349.4H949.0L944.0,291.6L933.5,238.2L914.5,191.6L849.7,90.9C879.9,56.9 900.2,55.9 1014.9,52.8" stroke="#A020F0" stroke-width="0.7"/>
<path d="M637.5,381.4H720.7C723.1,363.8 756.5,349.4 840.1,349.4H960.7L951.9,290.1L941.2,243.1L922.9,191.0L870.0,92.0C900.2,67.1 953.8,53.5 1014.9,51.4" stroke="#A020F0" stroke-width="0.7"/>
<path d="M637.5,382.3H742.2C744.8,364.5 780.7,349.9 870.5,349.9H949.0L945.1,286.3L932.0,241.0L915.3,187.5L854.4,92.9C891.2,57.4 909.4,57.2 1014.9,54.1" stroke="#A020F0" stroke-width="0.7"/>
<path d="M637.5,384.1H761.6C764.5,365.4 804.7,350.1 905.3,350.1H962.8L953.1,290.1L941.8,242.9L922.4,193.9L870.0,89.6C900.2,64.6 953.7,50.9 1014.9,48.9" stroke="#A020F0" stroke-width="0.7"/>
<path d="M637.5,380.8H743.6C746.5,363.3 787.0,349.0 888.2,349.0H964.0L953.3,286.7L943.9,244.0L925.0,187.2L865.5,91.2C902.1,71.0 959.1,54.9 1014.9,53.0" stroke="#A020F0" stroke-width="0.7"/>
<path d="M637.5,376.9H747.6C749.9,361.0 782.3,348.0 863.2,348.0H962.7L954.0,286.8L942.0,238.1L924.0,191.8L861.3,89.7C885.4,60.1 900.0,57.8 1014.9,55.1" stroke="#A020F0" stroke-width="0.7"/>
<path d="M637.5,382.3H760.2C762.6,363.7 796.2,348.5 880.1,348.5H958.4L949.0,293.5L938.0,240.5L919.6,192.6L865.8,90.4C909.8,74.7 969.2,54.1 1014.9,52.2" stroke="#A020F0" stroke-width="0.7"/>
<path d="M637.5,381.5H758.5C761.2,363.1 798.7,348.0 892.5,348.0H954.5L948.3,291.6L935.3,241.4L917.6,189.1L854.3,89.8C884.2,54.7 895.5,55.2 1014.9,52.2" stroke="#A020F0" stroke-width="0.7"/>
<path d="M637.5,377.7H735.6C738.0,361.5 771.7,348.2 855.8,348.2H950.8L950.0,290.0L938.5,242.7L916.6,187.4L865.0,89.9C888.2,64.7 940.9,57.4 1014.9,55.7" stroke="#A020F0" stroke-width="0.7"/>
<path d="M637.5,382.3H755.4C758.1,364.4 795.0,349.8 887.2,349.8H953.7L949.1,293.3L935.1,236.6L931.7,185.3L862.6,89.9C899.4,50.0 934.1,51.3 1014.9,47.9" stroke="#A020F0" stroke-width="0.7"/>
<path d="M637.5,376.8H732.0C734.3,361.0 766.4,348.1 846.7,348.1H938.0L941.9,286.7L924.0,238.8L911.3,190.7L850.4,91.9C885.6,54.3 904.3,51.4 1014.9,47.9" stroke="#A020F0" stroke-width="0.7"/>
<path d="M637.5,377.6H744.7C747.1,362.0 781.5,349.3 867.4,349.3H955.2L948.5,289.0L934.5,243.3L917.2,188.3L860.8,93.4C899.5,60.0 913.4,57.3 1014.9,54.1" stroke="#A020F0" stroke-width="0.7"/>
<path d="M637.5,388.8H724.7C727.7,367.4 768.6,349.8 870.9,349.8H959.4L950.3,293.2L939.6,243.1L920.5,192.7L869.4,90.2C903.6,68.7 958.6,53.3 1014.9,51.3" stroke="#A020F0" stroke-width="0.7"/>
<path d="M637.5,377.5H742.8C745.6,361.6 784.2,348.6 880.9,348.6H978.5L980.9,299.5L961.2,254.9L946.5,188.7L897.6,90.5C921.2,68.2 964.2,57.0 1014.9,55.2" stroke="#6A2090" stroke-width="0.7"/>
<path d="M637.5,376.7H740.1C742.6,361.2 777.9,348.5 866.2,348.5H998.1L987.9,302.2L976.0,249.8L965.0,193.6L882.9,91.5C917.4,72.2 968.5,54.0 1014.9,52.1" stroke="#6A2090" stroke-width="0.7"/>
<path d="M637.5,383.2H746.8C749.7,365.2 790.1,350.4 891.2,350.4H974.0L971.6,295.4L964.1,246.8L942.2,190.7L908.7,90.0C932.0,65.5 971.6,50.5 1014.9,48.5" stroke="#6A2090" stroke-width="0.7"/>
<path d="M637.5,388.7H764.7C767.6,366.8 808.8,348.8 911.9,348.8H974.0L968.0,297.3L958.0,246.6L932.0,190.3L927.6,91.2C949.5,69.8 983.0,51.6 1014.9,49.6" stroke="#6A2090" stroke-width="0.7"/>
<path d="M637.5,389.0H764.9C767.7,367.6 805.8,350.1 901.2,350.1H992.1L986.2,302.7L964.9,249.7L949.7,189.8L908.3,92.1C926.4,61.6 964.4,50.9 1014.9,48.8" stroke="#6A2090" stroke-width="0.7"/>
<path d="M637.5,383.2H784.6C787.5,364.2 828.0,348.6 929.3,348.6H995.1L985.0,298.9L965.1,249.8L944.2,189.8L910.4,91.5C936.7,69.7 976.8,51.2 1014.9,49.0" stroke="#6A2090" stroke-width="0.7"/>
<path d="M637.5,380.9H759.1C761.8,363.8 800.2,349.9 896.1,349.9H991.7L976.7,287.7L964.4,243.1L944.6,187.1L938.0,89.8C952.0,67.5 979.7,58.4 1014.9,56.8" stroke="#6A2090" stroke-width="0.7"/>
<path d="M637.5,382.9H742.3C745.3,364.1 787.4,348.7 892.7,348.7H974.0L973.6,295.4L964.9,249.7L932.0,192.9L871.7,91.9C912.9,74.7 969.6,53.9 1014.9,51.9" stroke="#6A2090" stroke-width="0.7"/>
<path d="M637.5,383.1H743.3C746.3,365.1 788.3,350.4 893.3,350.4H998.2L981.0,292.4L967.4,240.0L953.0,190.4L912.5,92.3C930.4,64.5 967.1,54.1 1014.9,52.1" stroke="#6A2090" stroke-width="0.7"/>
<path d="M637.5,388.8H755.2C757.7,367.3 794.1,349.7 885.0,349.7H990.5L980.7,296.0L971.1,253.3L953.3,191.4L870.3,94.4C894.8,67.2 946.3,57.8 1014.9,55.9" stroke="#6A2090" stroke-width="0.7"/>
<path d="M637.5,382.9H767.6C770.5,364.5 810.7,349.4 911.4,349.4H1001.1L987.2,301.5L972.3,249.1L958.0,191.5L909.8,93.5C938.9,76.8 980.1,58.6 1014.9,56.8" stroke="#6A2090" stroke-width="0.7"/>
<path d="M637.5,383.1H751.3C753.8,363.8 789.0,348.1 876.9,348.1H996.4L981.6,298.8L973.9,246.4L950.1,193.9L897.1,90.6C921.0,71.1 964.3,61.0 1014.9,59.4" stroke="#6A2090" stroke-width="0.7"/>
<path d="M637.5,381.2H753.1C755.7,363.2 792.1,348.6 883.1,348.6H996.1L980.6,288.6L966.1,237.0L950.4,192.3L862.0,92.5C884.0,55.9 912.7,55.4 1014.9,52.2" stroke="#6A2090" stroke-width="0.7"/>
<path d="M637.5,388.2H781.5C784.5,366.8 825.8,349.4 929.2,349.4H974.0L968.0,300.6L959.3,245.9L945.9,186.6L930.1,94.3C951.0,75.2 983.4,59.7 1014.9,57.9" stroke="#6A2090" stroke-width="0.7"/>
<path d="M637.5,383.6H770.1C772.5,364.7 805.9,349.2 889.4,349.2H991.9L978.9,301.9L969.0,252.9L938.6,185.9L862.0,94.3C891.5,55.5 920.6,55.4 1014.9,52.0" stroke="#6A2090" stroke-width="0.7"/>
<path d="M637.5,383.6H754.9C757.9,365.1 799.0,350.0 901.7,350.0H974.0L968.0,303.8L960.9,247.7L935.3,190.9L894.6,90.5C917.3,66.4 961.0,55.8 1014.9,54.0" stroke="#6A2090" stroke-width="0.7"/>
<path d="M637.5,380.8H746.2C748.6,363.4 782.5,349.2 867.1,349.2H1001.0L984.6,289.0L972.0,242.6L955.0,187.4L938.0,90.5C951.4,62.2 979.0,51.6 1014.9,49.6" stroke="#6A2090" stroke-width="0.7"/>
<path d="M637.5,384.2H780.9C783.6,364.4 820.5,348.1 912.9,348.1H995.9L981.6,292.2L967.7,239.7L949.9,189.0L926.9,91.1C942.0,66.1 973.5,57.2 1014.9,55.4" stroke="#6A2090" stroke-width="0.7"/>
<path d="M637.5,377.1H756.2C758.5,361.1 790.5,348.0 870.5,348.0H994.7L975.6,295.3L963.6,248.7L947.8,186.4L918.6,90.4C933.2,59.8 967.0,51.4 1014.9,49.4" stroke="#6A2090" stroke-width="0.7"/>
<path d="M637.5,388.0H772.6C775.5,366.0 816.0,348.0 917.2,348.0H998.1L983.1,288.4L969.1,238.8L950.8,192.3L938.0,92.5C960.4,79.0 990.9,62.1 1014.9,60.5" stroke="#6A2090" stroke-width="0.7"/>
<path d="M637.5,384.6H749.0C751.9,364.5 792.6,348.1 894.2,348.1H999.1L985.5,287.6L970.1,242.9L951.8,186.4L879.3,94.2C916.3,76.4 969.3,57.7 1014.9,55.7" stroke="#6A2090" stroke-width="0.7"/>
<path d="M637.5,376.9H772.9C775.4,361.3 810.9,348.4 899.5,348.4H990.7L979.2,289.2L963.2,238.3L946.1,191.4L891.9,90.8C915.8,63.6 960.7,50.8 1014.9,48.7" stroke="#6A2090" stroke-width="0.7"/>
<path d="M637.5,380.8H741.3C744.0,362.7 781.0,347.9 873.6,347.9H991.1L977.9,286.2L965.5,242.3L946.6,189.9L919.3,93.5C946.4,78.3 984.2,60.6 1014.9,58.9" stroke="#6A2090" stroke-width="0.7"/>
<path d="M637.5,388.7H760.8C763.5,367.1 801.1,349.4 895.1,349.4H998.4L984.2,295.5L968.5,251.2L940.4,194.1L890.5,94.2C919.7,69.9 966.7,52.3 1014.9,50.1" stroke="#6A2090" stroke-width="0.7"/>
<path d="M637.5,377.5H762.0C764.9,361.6 804.7,348.6 904.4,348.6H988.3L977.7,293.0L961.2,238.2L945.1,191.7L893.0,92.1C920.1,66.7 965.7,50.6 1014.9,48.4" stroke="#6A2090" stroke-width="0.7"/>
<path d="M637.5,380.7H779.8C782.8,362.8 825.0,348.1 930.2,348.1H993.0L981.7,288.7L967.8,239.8L952.3,190.8L938.0,93.6C952.4,65.3 980.2,53.1 1014.9,51.0" stroke="#6A2090" stroke-width="0.7"/>
<path d="M637.5,383.1H767.3C769.8,365.1 805.4,350.5 894.3,350.5H983.1L976.3,291.8L960.1,236.3L943.5,187.9L915.8,90.0C945.1,77.9 984.6,62.0 1014.9,60.6" stroke="#6A2090" stroke-width="0.7"/>
<path d="M637.5,382.3H773.6C776.5,364.1 816.7,349.2 917.3,349.2H986.2L976.5,298.2L968.0,246.5L935.5,187.1L938.0,94.1C959.3,78.2 989.5,60.7 1014.9,58.9" stroke="#6A2090" stroke-width="0.7"/>
<path d="M637.5,388.5H743.3C746.2,367.4 786.0,350.1 885.6,350.1H985.3L976.2,289.9L960.5,243.9L942.6,191.4L906.7,92.7C937.5,73.6 980.3,51.1 1014.9,48.9" stroke="#6A2090" stroke-width="0.7"/>
<path d="M637.5,388.9H760.8C763.2,367.0 797.2,349.0 882.0,349.0H988.7L982.9,295.0L967.3,247.4L952.8,187.2L938.0,92.9C959.5,73.0 989.8,50.5 1014.9,48.3" stroke="#6A2090" stroke-width="0.7"/>
<path d="M637.5,383.4H767.6C770.2,364.3 805.8,348.7 894.8,348.7H974.0L975.6,301.8L960.4,251.7L943.5,193.1L938.0,91.8C956.6,68.5 985.9,50.4 1014.9,48.2" stroke="#6A2090" stroke-width="0.7"/>
<path d="M637.5,384.0H767.5C770.1,364.1 805.8,347.8 895.1,347.8H1007.0L992.0,300.9L976.0,252.7L965.0,189.6L862.4,91.1C901.9,56.4 910.1,55.7 1014.9,52.6" stroke="#6A2090" stroke-width="0.7"/>
<path d="M637.5,380.7H753.7C756.3,362.8 792.4,348.1 882.5,348.1H996.6L982.5,293.8L968.6,240.2L951.4,186.1L917.4,91.9C935.9,67.6 971.3,56.7 1014.9,54.8" stroke="#6A2090" stroke-width="0.7"/>
<path d="M637.5,380.6H755.7C758.2,363.8 793.0,350.0 880.1,350.0H1001.3L990.0,303.7L967.9,245.6L964.1,192.5L938.0,90.3C956.7,71.7 986.1,57.1 1014.9,55.4" stroke="#6A2090" stroke-width="0.7"/>
<path d="M637.5,380.9H783.6C786.2,363.1 823.6,348.5 917.0,348.5H985.2L974.0,288.1L961.2,238.4L942.7,188.6L938.0,93.9C952.5,71.5 980.3,61.7 1014.9,60.0" stroke="#6A2090" stroke-width="0.7"/>
<path d="M637.5,387.7H766.2C768.5,365.9 801.0,348.1 882.2,348.1H996.1L983.7,286.0L970.0,236.5L951.0,192.5L867.2,93.0C901.0,67.8 956.6,50.7 1014.9,48.5" stroke="#6A2090" stroke-width="0.7"/>
<path d="M637.5,388.7H745.2C748.1,367.2 787.8,349.7 887.1,349.7H986.4L976.3,299.1L961.6,247.8L939.9,193.9L912.5,90.5C942.7,72.9 983.4,50.1 1014.9,48.0" stroke="#6A2090" stroke-width="0.7"/>
<path d="M637.5,389.2H766.5C768.8,366.7 801.2,348.2 882.0,348.2H978.0L968.0,304.6L958.0,247.3L932.0,186.5L894.7,91.3C918.4,71.5 962.3,61.9 1014.9,60.4" stroke="#6A2090" stroke-width="0.7"/>
<path d="M637.5,388.5H744.6C746.9,367.0 778.9,349.4 858.8,349.4H994.2L983.6,291.5L967.5,241.8L952.8,187.2L938.0,92.2C953.8,65.2 982.1,50.8 1014.9,48.7" stroke="#6A2090" stroke-width="0.7"/>
<path d="M637.5,387.7H753.3C755.6,367.1 787.7,350.2 868.0,350.2H987.8L978.7,289.5L962.8,241.3L944.1,190.3L914.3,90.8C933.1,69.5 969.5,60.3 1014.9,58.7" stroke="#6A2090" stroke-width="0.7"/>
<path d="M637.5,383.7H740.2C742.9,364.8 780.7,349.2 875.3,349.2H1001.4L980.8,297.2L968.5,249.8L947.5,190.5L909.7,89.7C940.2,72.8 982.0,51.6 1014.9,49.6" stroke="#6A2090" stroke-width="0.7"/>
<path d="M637.5,389.0H757.5C760.6,366.6 803.3,348.3 909.9,348.3H992.2L980.0,295.0L974.3,245.8L955.5,191.1L879.4,90.2C911.8,68.3 963.2,51.8 1014.9,49.7" stroke="#6A2090" stroke-width="0.7"/>
<path d="M637.5,383.7H777.2C779.6,364.4 812.7,348.6 895.7,348.6H974.0L974.1,303.7L960.5,253.1L943.4,194.1L938.0,90.6C950.2,62.8 977.3,54.4 1014.9,52.5" stroke="#6A2090" stroke-width="0.7"/>
<path d="M637.5,388.4H784.4C786.9,366.7 821.8,349.0 909.0,349.0H1007.0L992.0,303.8L974.9,247.7L964.1,185.6L934.7,90.2C947.6,64.9 975.9,57.1 1014.9,55.4" stroke="#6A2090" stroke-width="0.7"/>
<path d="M637.5,380.6H758.8C761.7,363.7 802.5,349.8 904.5,349.8H1001.0L992.0,295.6L972.4,250.7L959.3,186.5L862.0,89.9C885.9,53.4 922.3,56.4 1014.9,53.5" stroke="#6A2090" stroke-width="0.7"/>
<path d="M637.5,388.5H747.2C749.7,367.4 784.4,350.1 871.2,350.1H995.9L977.7,295.5L972.2,249.3L953.1,194.4L862.0,92.3C900.5,58.9 907.1,56.4 1014.9,53.3" stroke="#6A2090" stroke-width="0.7"/>
<path d="M637.5,376.7H776.3C779.3,361.0 820.7,348.2 924.2,348.2H974.0L974.3,301.1L958.0,252.5L932.0,191.1L905.0,93.8C936.2,77.6 979.6,58.7 1014.9,56.8" stroke="#6A2090" stroke-width="0.7"/>
<path d="M637.5,384.4H766.2C768.7,365.2 803.2,349.5 889.5,349.5H984.3L974.0,287.9L960.0,242.2L941.0,192.0L915.9,93.6C945.3,79.5 984.8,60.6 1014.9,58.8" stroke="#6A2090" stroke-width="0.7"/>
<path d="M637.5,384.3H768.0C770.7,364.7 808.9,348.7 904.3,348.7H981.5L982.3,301.4L961.9,252.2L941.9,185.3L916.1,92.2C939.9,72.1 977.5,56.6 1014.9,54.7" stroke="#6A2090" stroke-width="0.7"/>
<path d="M637.5,383.2H765.1C767.8,364.1 805.6,348.4 900.2,348.4H1001.0L984.9,288.3L970.5,240.1L954.6,187.4L862.0,90.9C887.0,57.6 919.1,53.9 1014.9,50.6" stroke="#6A2090" stroke-width="0.7"/>
<path d="M637.5,383.1H767.0C769.8,364.4 808.4,349.1 905.0,349.1H992.4L980.4,287.7L967.3,240.7L947.7,190.9L907.5,91.4C935.5,72.8 977.0,55.5 1014.9,53.6" stroke="#6A2090" stroke-width="0.7"/>
<path d="M637.5,381.1H782.9C786.0,363.5 828.6,349.1 935.2,349.1H1004.6L984.9,295.9L976.0,250.9L965.0,191.2L909.9,92.5C934.3,72.3 973.9,58.1 1014.9,56.2" stroke="#6A2090" stroke-width="0.7"/>
<path d="M637.5,382.7H744.1C746.9,364.6 786.1,349.7 884.1,349.7H987.7L978.4,296.7L962.1,248.6L939.7,193.9L896.1,92.1C915.5,69.7 957.6,62.5 1014.9,61.0" stroke="#6A2090" stroke-width="0.7"/>
<path d="M637.5,387.6H784.0C787.0,366.4 828.8,349.0 933.3,349.0H988.4L982.5,298.6L965.3,253.7L952.5,190.4L921.8,92.5C949.1,75.7 986.1,54.2 1014.9,52.2" stroke="#6A2090" stroke-width="0.7"/>
<path d="M637.5,381.5H764.6C767.6,363.0 808.9,347.9 912.3,347.9H991.2L979.7,296.6L968.8,249.4L948.8,191.0L907.5,93.5C927.4,70.1 966.3,60.2 1014.9,58.5" stroke="#6A2090" stroke-width="0.7"/>
<path d="M637.5,388.5H755.1C757.5,367.2 792.0,349.7 878.3,349.7H983.6L975.1,303.6L965.2,253.7L947.9,189.0L904.7,92.3C933.5,76.6 976.2,61.9 1014.9,60.3" stroke="#6A2090" stroke-width="0.7"/>
<path d="M637.5,377.7H740.7C743.0,362.5 775.2,350.0 855.8,350.0H986.1L974.4,292.7L960.4,237.3L942.7,186.4L927.8,92.7C948.6,74.5 981.6,60.8 1014.9,59.1" stroke="#6A2090" stroke-width="0.7"/>
<path d="M637.5,388.7H750.8C753.4,366.9 789.2,349.1 878.7,349.1H977.3L970.5,297.0L958.0,253.1L932.0,190.9L862.0,92.0C887.6,58.0 921.4,59.7 1014.9,56.9" stroke="#6A2090" stroke-width="0.7"/>
<path d="M637.5,389.2H755.0C758.1,367.1 800.9,349.0 907.9,349.0H985.3L974.0,286.8L961.2,236.7L941.2,187.6L917.0,90.2C946.3,76.8 985.4,58.5 1014.9,56.8" stroke="#6A2090" stroke-width="0.7"/>
<path d="M637.5,382.2H764.2C767.0,364.5 806.6,350.1 905.3,350.1H994.9L983.4,287.0L969.6,237.5L953.8,188.3L914.1,94.2C940.9,74.8 980.0,55.9 1014.9,53.9" stroke="#6A2090" stroke-width="0.7"/>
<path d="M790,349.3 C830,348.2 850,347.4 880,347.3 H1003 L1007.5,349.3 L1003,351.4 H880 C850,351.4 830,351 790,350Z" fill="#6A2090" stroke="none"/>
<path d="M637.5,383H760C762,366 790,349 850,349H1000L963,200L949.5,81C975,62 990,58 1014.9,55" stroke="#A020F0" stroke-width="0.7"/></g>
<path d="M637.50,33.00 V411.90 H1015.90" fill="none" stroke="#000" stroke-width="2.3" stroke-linejoin="miter" stroke-linecap="butt"/>
<line x1="637.50" y1="411.90" x2="637.50" y2="401.10" stroke="#000" stroke-width="2.0"/>
<line x1="763.30" y1="411.90" x2="763.30" y2="401.10" stroke="#000" stroke-width="2.0"/>
<line x1="889.10" y1="411.90" x2="889.10" y2="401.10" stroke="#000" stroke-width="2.0"/>
<line x1="1014.90" y1="411.90" x2="1014.90" y2="401.10" stroke="#000" stroke-width="2.0"/>
<line x1="675.37" y1="411.90" x2="675.37" y2="406.30" stroke="#000" stroke-width="2.0"/>
<line x1="697.52" y1="411.90" x2="697.52" y2="406.30" stroke="#000" stroke-width="2.0"/>
<line x1="713.24" y1="411.90" x2="713.24" y2="406.30" stroke="#000" stroke-width="2.0"/>
<line x1="725.43" y1="411.90" x2="725.43" y2="406.30" stroke="#000" stroke-width="2.0"/>
<line x1="735.39" y1="411.90" x2="735.39" y2="406.30" stroke="#000" stroke-width="2.0"/>
<line x1="743.81" y1="411.90" x2="743.81" y2="406.30" stroke="#000" stroke-width="2.0"/>
<line x1="751.11" y1="411.90" x2="751.11" y2="406.30" stroke="#000" stroke-width="2.0"/>
<line x1="757.54" y1="411.90" x2="757.54" y2="406.30" stroke="#000" stroke-width="2.0"/>
<line x1="801.17" y1="411.90" x2="801.17" y2="406.30" stroke="#000" stroke-width="2.0"/>
<line x1="823.32" y1="411.90" x2="823.32" y2="406.30" stroke="#000" stroke-width="2.0"/>
<line x1="839.04" y1="411.90" x2="839.04" y2="406.30" stroke="#000" stroke-width="2.0"/>
<line x1="851.23" y1="411.90" x2="851.23" y2="406.30" stroke="#000" stroke-width="2.0"/>
<line x1="861.19" y1="411.90" x2="861.19" y2="406.30" stroke="#000" stroke-width="2.0"/>
<line x1="869.61" y1="411.90" x2="869.61" y2="406.30" stroke="#000" stroke-width="2.0"/>
<line x1="876.91" y1="411.90" x2="876.91" y2="406.30" stroke="#000" stroke-width="2.0"/>
<line x1="883.34" y1="411.90" x2="883.34" y2="406.30" stroke="#000" stroke-width="2.0"/>
<line x1="926.97" y1="411.90" x2="926.97" y2="406.30" stroke="#000" stroke-width="2.0"/>
<line x1="949.12" y1="411.90" x2="949.12" y2="406.30" stroke="#000" stroke-width="2.0"/>
<line x1="964.84" y1="411.90" x2="964.84" y2="406.30" stroke="#000" stroke-width="2.0"/>
<line x1="977.03" y1="411.90" x2="977.03" y2="406.30" stroke="#000" stroke-width="2.0"/>
<line x1="986.99" y1="411.90" x2="986.99" y2="406.30" stroke="#000" stroke-width="2.0"/>
<line x1="995.41" y1="411.90" x2="995.41" y2="406.30" stroke="#000" stroke-width="2.0"/>
<line x1="1002.71" y1="411.90" x2="1002.71" y2="406.30" stroke="#000" stroke-width="2.0"/>
<line x1="1009.14" y1="411.90" x2="1009.14" y2="406.30" stroke="#000" stroke-width="2.0"/>
<line x1="637.50" y1="312.16" x2="648.10" y2="312.16" stroke="#000" stroke-width="2.0"/>
<line x1="637.50" y1="212.43" x2="648.10" y2="212.43" stroke="#000" stroke-width="2.0"/>
<line x1="637.50" y1="112.69" x2="648.10" y2="112.69" stroke="#000" stroke-width="2.0"/>
<line x1="667.80" y1="166.10" x2="691.90" y2="166.10" stroke="#ADD8E6" stroke-width="4"/>
<line x1="667.80" y1="187.95" x2="691.90" y2="187.95" stroke="#AB82FF" stroke-width="4"/>
<line x1="667.80" y1="209.80" x2="691.90" y2="209.80" stroke="#A020F0" stroke-width="4"/>
<line x1="667.80" y1="231.65" x2="691.90" y2="231.65" stroke="#6A2090" stroke-width="4"/>
<rect x="107.33" y="773.80" width="377.37" height="59.42" fill="rgba(250,0,0,0.2)"/><rect x="172.52" y="505.10" width="29.04" height="378.75" fill="rgba(250,0,0,0.2)"/>
<path d="M107.33,505.10 V883.85 H485.70" fill="none" stroke="#000" stroke-width="2.3" stroke-linejoin="miter" stroke-linecap="butt"/>
<line x1="121.70" y1="883.85" x2="121.70" y2="872.85" stroke="#000" stroke-width="2.0"/>
<line x1="194.30" y1="883.85" x2="194.30" y2="872.85" stroke="#000" stroke-width="2.0"/>
<line x1="266.90" y1="883.85" x2="266.90" y2="872.85" stroke="#000" stroke-width="2.0"/>
<line x1="339.50" y1="883.85" x2="339.50" y2="872.85" stroke="#000" stroke-width="2.0"/>
<line x1="412.10" y1="883.85" x2="412.10" y2="872.85" stroke="#000" stroke-width="2.0"/>
<line x1="484.70" y1="883.85" x2="484.70" y2="872.85" stroke="#000" stroke-width="2.0"/>
<line x1="107.33" y1="833.22" x2="118.33" y2="833.22" stroke="#000" stroke-width="2.0"/>
<line x1="107.33" y1="773.80" x2="118.33" y2="773.80" stroke="#000" stroke-width="2.0"/>
<line x1="107.33" y1="714.38" x2="118.33" y2="714.38" stroke="#000" stroke-width="2.0"/>
<line x1="107.33" y1="654.96" x2="118.33" y2="654.96" stroke="#000" stroke-width="2.0"/>
<line x1="107.33" y1="595.54" x2="118.33" y2="595.54" stroke="#000" stroke-width="2.0"/>
<line x1="107.33" y1="536.12" x2="118.33" y2="536.12" stroke="#000" stroke-width="2.0"/>
<line x1="108.33" y1="773.80" x2="484.20" y2="773.80" stroke="#2a0000" stroke-width="2.3" stroke-dasharray="11.7 8.3" stroke-dashoffset="16.23" stroke-linecap="round"/>
<line x1="107.83" y1="773.80" x2="112.33" y2="773.80" stroke="#2a0000" stroke-width="2.3"/>
<line x1="108.33" y1="833.22" x2="484.20" y2="833.22" stroke="#2a0000" stroke-width="2.3" stroke-dasharray="11.7 8.3" stroke-dashoffset="16.23" stroke-linecap="round"/>
<line x1="107.83" y1="833.22" x2="112.33" y2="833.22" stroke="#2a0000" stroke-width="2.3"/>
<line x1="172.52" y1="506.10" x2="172.52" y2="882.85" stroke="#2a0000" stroke-width="2.3" stroke-dasharray="11.0 9.0" stroke-dashoffset="14.25" stroke-linecap="round"/>
<line x1="201.56" y1="506.10" x2="201.56" y2="882.85" stroke="#2a0000" stroke-width="2.3" stroke-dasharray="11.0 9.0" stroke-dashoffset="14.25" stroke-linecap="round"/>
<g fill="#A020F0" stroke="#1a1a1a" stroke-width="0.7"><path d="M172.2,816.9L175.7,810.8H182.6L186.0,816.9L182.6,823.0H175.7Z"/><path d="M173.4,818.7L176.9,812.6H183.8L187.2,818.7L183.8,824.8H176.9Z"/><path d="M175.7,802.0L179.2,795.9H186.1L189.5,802.0L186.1,808.1H179.2Z"/><path d="M170.2,826.0L173.7,819.9H180.6L184.0,826.0L180.6,832.1H173.7Z"/><path d="M172.4,807.3L175.9,801.2H182.8L186.2,807.3L182.8,813.4H175.9Z"/><path d="M179.1,814.6L182.5,808.5H189.4L192.9,814.6L189.4,820.7H182.5Z"/><path d="M177.6,814.8L181.1,808.7H188.0L191.4,814.8L188.0,820.9H181.1Z"/><path d="M175.9,804.7L179.3,798.6H186.2L189.7,804.7L186.2,810.8H179.3Z"/><path d="M175.8,826.9L179.3,820.8H186.2L189.6,826.9L186.2,833.0H179.3Z"/><path d="M174.8,823.0L178.3,816.9H185.2L188.6,823.0L185.2,829.1H178.3Z"/><path d="M176.1,802.0L179.6,795.9H186.5L189.9,802.0L186.5,808.1H179.6Z"/><path d="M176.9,818.3L180.4,812.2H187.3L190.7,818.3L187.3,824.4H180.4Z"/><path d="M172.8,801.0L176.3,794.9H183.2L186.6,801.0L183.2,807.1H176.3Z"/><path d="M177.9,814.7L181.3,808.6H188.2L191.7,814.7L188.2,820.8H181.3Z"/><path d="M176.6,827.2L180.0,821.1H186.9L190.4,827.2L186.9,833.3H180.0Z"/><path d="M176.5,828.6L180.0,822.5H186.9L190.3,828.6L186.9,834.7H180.0Z"/><path d="M173.7,824.8L177.1,818.7H184.0L187.5,824.8L184.0,830.9H177.1Z"/><path d="M174.1,829.0L177.6,822.9H184.5L187.9,829.0L184.5,835.1H177.6Z"/><path d="M178.0,803.0L181.5,796.9H188.4L191.8,803.0L188.4,809.1H181.5Z"/><path d="M171.3,806.7L174.8,800.6H181.7L185.1,806.7L181.7,812.8H174.8Z"/></g>
<g fill="#AB82FF" stroke="#1a1a1a" stroke-width="0.7"><circle cx="185.7" cy="838.9" r="6.8"/><circle cx="182.6" cy="835.5" r="6.8"/><circle cx="181.6" cy="837.6" r="6.8"/><circle cx="180.2" cy="842.6" r="6.8"/><circle cx="182.3" cy="850.6" r="6.8"/><circle cx="183.1" cy="851.2" r="6.8"/><circle cx="184.7" cy="852.8" r="6.8"/><circle cx="183.0" cy="832.1" r="6.8"/><circle cx="184.7" cy="852.1" r="6.8"/><circle cx="185.1" cy="842.2" r="6.8"/><circle cx="183.4" cy="833.3" r="6.8"/><circle cx="184.5" cy="842.3" r="6.8"/><circle cx="179.6" cy="829.6" r="6.8"/><circle cx="184.7" cy="852.7" r="6.8"/></g>
<g fill="#ADD8E6" stroke="#1a1a1a" stroke-width="0.7"><rect x="173.9" y="859.6" width="10.4" height="10.4"/><rect x="177.7" y="849.2" width="10.4" height="10.4"/><rect x="176.3" y="859.1" width="10.4" height="10.4"/><rect x="183.3" y="847.5" width="10.4" height="10.4"/><rect x="180.2" y="847.5" width="10.4" height="10.4"/><rect x="181.4" y="852.1" width="10.4" height="10.4"/><rect x="183.4" y="862.5" width="10.4" height="10.4"/><rect x="178.9" y="862.8" width="10.4" height="10.4"/><rect x="176.5" y="848.0" width="10.4" height="10.4"/><rect x="180.0" y="847.3" width="10.4" height="10.4"/><rect x="175.2" y="853.3" width="10.4" height="10.4"/><rect x="180.1" y="849.3" width="10.4" height="10.4"/></g>
<g fill="#6A2090" stroke="#1a1a1a" stroke-width="0.7"><path d="M180.2,680.2L186.3,690.8H174.1Z"/><path d="M182.1,688.6L188.2,699.1H176.0Z"/><path d="M183.8,692.1L189.9,702.6H177.7Z"/><path d="M184.1,695.5L190.2,706.0H178.0Z"/><path d="M182.7,698.1L188.8,708.6H176.6Z"/><path d="M178.2,698.2L184.3,708.7H172.1Z"/><path d="M179.7,699.4L185.8,709.9H173.6Z"/><path d="M183.2,704.6L189.3,715.1H177.1Z"/><path d="M179.7,707.3L185.8,717.8H173.6Z"/><path d="M184.9,712.1L191.0,722.6H178.8Z"/><path d="M184.4,713.8L190.5,724.3H178.3Z"/><path d="M182.0,716.5L188.1,727.0H175.9Z"/><path d="M185.0,720.3L191.1,730.8H178.9Z"/><path d="M180.3,720.4L186.4,730.9H174.2Z"/><path d="M184.0,722.3L190.1,732.8H177.9Z"/><path d="M184.0,726.1L190.1,736.6H177.9Z"/><path d="M179.4,726.9L185.5,737.4H173.3Z"/><path d="M182.4,727.9L188.5,738.4H176.3Z"/><path d="M179.0,728.4L185.1,738.9H172.9Z"/><path d="M179.8,729.5L185.9,740.0H173.7Z"/><path d="M180.7,730.7L186.8,741.2H174.6Z"/><path d="M182.4,731.6L188.5,742.1H176.3Z"/><path d="M180.4,733.1L186.5,743.6H174.3Z"/><path d="M180.2,733.8L186.3,744.3H174.1Z"/><path d="M184.0,734.3L190.1,744.8H177.9Z"/><path d="M183.1,735.1L189.2,745.6H177.0Z"/><path d="M180.3,737.7L186.4,748.2H174.2Z"/><path d="M184.7,737.8L190.8,748.3H178.6Z"/><path d="M181.1,741.1L187.2,751.6H175.0Z"/><path d="M180.6,741.8L186.7,752.3H174.5Z"/><path d="M179.4,743.7L185.5,754.2H173.3Z"/><path d="M184.3,744.0L190.4,754.5H178.2Z"/><path d="M184.6,745.3L190.7,755.8H178.5Z"/><path d="M179.9,745.8L186.0,756.3H173.8Z"/><path d="M182.7,746.8L188.8,757.3H176.6Z"/><path d="M185.1,750.8L191.2,761.3H179.0Z"/><path d="M183.0,752.0L189.1,762.5H176.9Z"/><path d="M181.5,752.1L187.6,762.6H175.4Z"/><path d="M185.3,752.2L191.4,762.7H179.2Z"/><path d="M184.7,757.6L190.8,768.1H178.6Z"/><path d="M181.1,757.9L187.2,768.4H175.0Z"/><path d="M180.8,759.3L186.9,769.8H174.7Z"/><path d="M182.8,759.3L188.9,769.8H176.7Z"/><path d="M178.2,761.2L184.3,771.7H172.1Z"/><path d="M182.2,761.6L188.3,772.1H176.1Z"/><path d="M184.1,763.6L190.2,774.1H178.0Z"/><path d="M180.5,764.4L186.6,774.9H174.4Z"/><path d="M184.8,768.4L190.9,778.9H178.7Z"/><path d="M181.2,770.8L187.3,781.3H175.1Z"/><path d="M182.3,772.1L188.4,782.6H176.2Z"/><path d="M183.3,772.3L189.4,782.8H177.2Z"/><path d="M178.1,773.0L184.2,783.5H172.0Z"/><path d="M183.6,781.0L189.7,791.5H177.5Z"/><path d="M184.1,781.1L190.2,791.6H178.0Z"/><path d="M178.3,783.7L184.4,794.2H172.2Z"/><path d="M184.9,786.1L191.0,796.6H178.8Z"/><path d="M178.0,790.0L184.1,800.5H171.9Z"/><path d="M181.3,790.6L187.4,801.1H175.2Z"/><path d="M180.4,791.3L186.5,801.8H174.3Z"/><path d="M183.1,791.7L189.2,802.2H177.0Z"/><path d="M184.6,793.7L190.7,804.2H178.5Z"/></g>
<g fill="#556B2F" stroke="#1a1a1a" stroke-width="0.7"><path d="M188.1,846.0L191.6,839.9H198.4L201.9,846.0L198.4,852.1H191.6Z"/><path d="M189.1,834.8L192.6,828.7H199.4L202.9,834.8L199.4,840.9H192.6Z"/><path d="M193.1,835.7L196.6,829.6H203.4L206.9,835.7L203.4,841.8H196.6Z"/><path d="M197.1,833.8L200.6,827.7H207.4L210.9,833.8L207.4,839.9H200.6Z"/><path d="M201.1,831.8L204.6,825.7H211.4L214.9,831.8L211.4,837.9H204.6Z"/><path d="M205.1,829.8L208.6,823.7H215.4L218.9,829.8L215.4,835.9H208.6Z"/><path d="M206.1,822.8L209.6,816.7H216.4L219.9,822.8L216.4,828.9H209.6Z"/><path d="M208.1,824.8L211.6,818.7H218.4L221.9,824.8L218.4,830.9H211.6Z"/><path d="M210.1,828.8L213.6,822.7H220.4L223.9,828.8L220.4,834.9H213.6Z"/><path d="M187.1,840.0L190.6,833.9H197.4L200.9,840.0L197.4,846.1H190.6Z"/><path d="M191.1,842.0L194.6,835.9H201.4L204.9,842.0L201.4,848.1H194.6Z"/><path d="M234.5,815.8L238.0,809.7H244.8L248.3,815.8L244.8,821.9H238.0Z"/><path d="M266.1,803.3L269.6,797.2H276.4L279.9,803.3L276.4,809.4H269.6Z"/><path d="M307.6,783.3L311.1,777.2H317.9L321.4,783.3L317.9,789.4H311.1Z"/><path d="M437.1,747.3L440.6,741.2H447.4L450.9,747.3L447.4,753.4H440.6Z"/><path d="M454.1,744.7L457.6,738.6H464.4L467.9,744.7L464.4,750.8H457.6Z"/><path d="M456.6,743.0L460.1,736.9H466.9L470.4,743.0L466.9,749.1H460.1Z"/></g>
<g fill="#C0FF3E" stroke="#1a1a1a" stroke-width="0.7"><circle cx="194.0" cy="863.6" r="6.8"/><circle cx="196.0" cy="855.6" r="6.8"/><circle cx="201.0" cy="854.7" r="6.8"/><circle cx="205.0" cy="854.7" r="6.8"/><circle cx="199.0" cy="860.0" r="6.8"/><circle cx="203.0" cy="858.0" r="6.8"/><circle cx="217.8" cy="848.7" r="6.8"/></g>
<g fill="#76EE00" stroke="#1a1a1a" stroke-width="0.7"><rect x="188.8" y="868.8" width="10.4" height="10.4"/><rect x="192.8" y="866.8" width="10.4" height="10.4"/><rect x="195.8" y="869.8" width="10.4" height="10.4"/><rect x="197.8" y="865.8" width="10.4" height="10.4"/><rect x="190.8" y="862.8" width="10.4" height="10.4"/><rect x="193.8" y="871.3" width="10.4" height="10.4"/><rect x="189.8" y="871.8" width="10.4" height="10.4"/></g>
<g fill="#006400" stroke="#1a1a1a" stroke-width="0.7"><path d="M197.0,794.8L203.1,805.2H190.9Z"/><path d="M198.0,798.8L204.1,809.2H191.9Z"/><path d="M196.4,802.8L202.5,813.2H190.3Z"/><path d="M197.0,806.8L203.1,817.2H190.9Z"/><path d="M199.0,804.8L205.1,815.2H192.9Z"/><path d="M194.5,815.8L200.6,826.2H188.4Z"/><path d="M196.0,810.8L202.1,821.2H189.9Z"/><path d="M223.5,781.1L229.6,791.6H217.4Z"/><path d="M225.3,777.8L231.4,788.2H219.2Z"/><path d="M233.0,774.9L239.1,785.4H226.9Z"/><path d="M240.8,769.1L246.9,779.6H234.7Z"/><path d="M244.2,766.2L250.3,776.8H238.1Z"/><path d="M247.1,772.0L253.2,782.5H241.0Z"/><path d="M252.3,766.2L258.4,776.8H246.2Z"/><path d="M257.4,766.8L263.5,777.2H251.3Z"/><path d="M268.9,752.5L275.0,763.0H262.8Z"/><path d="M271.2,751.9L277.3,762.4H265.1Z"/><path d="M321.7,728.6L327.8,739.1H315.6Z"/><path d="M339.5,718.9L345.6,729.4H333.4Z"/><path d="M356.8,710.0L362.9,720.5H350.7Z"/><path d="M361.4,704.2L367.5,714.8H355.3Z"/><path d="M366.5,702.5L372.6,713.0H360.4Z"/><path d="M380.3,698.5L386.4,709.0H374.2Z"/><path d="M400.4,694.1L406.5,704.6H394.3Z"/><path d="M405.6,687.0L411.7,697.5H399.5Z"/><path d="M413.0,687.0L419.1,697.5H406.9Z"/><path d="M427.4,676.4L433.5,686.9H421.3Z"/><path d="M429.1,674.4L435.2,684.9H423.0Z"/><path d="M434.8,669.8L440.9,680.2H428.7Z"/><path d="M437.7,654.2L443.8,664.8H431.6Z"/><path d="M440.6,655.5L446.7,666.0H434.5Z"/><path d="M451.5,662.5L457.6,673.0H445.4Z"/></g>
<path d="M107.33,505.10 V883.85 H485.70" fill="none" stroke="#000" stroke-width="2.3"/>
<rect x="637.50" y="773.80" width="377.40" height="59.42" fill="rgba(250,0,0,0.2)"/><rect x="785.69" y="505.20" width="154.26" height="378.50" fill="rgba(250,0,0,0.2)"/>
<path d="M637.50,505.20 V883.70 H1015.90" fill="none" stroke="#000" stroke-width="2.3" stroke-linejoin="miter" stroke-linecap="butt"/>
<line x1="677.82" y1="883.70" x2="677.82" y2="872.70" stroke="#000" stroke-width="2.0"/>
<line x1="745.24" y1="883.70" x2="745.24" y2="872.70" stroke="#000" stroke-width="2.0"/>
<line x1="812.66" y1="883.70" x2="812.66" y2="872.70" stroke="#000" stroke-width="2.0"/>
<line x1="880.08" y1="883.70" x2="880.08" y2="872.70" stroke="#000" stroke-width="2.0"/>
<line x1="947.50" y1="883.70" x2="947.50" y2="872.70" stroke="#000" stroke-width="2.0"/>
<line x1="1014.92" y1="883.70" x2="1014.92" y2="872.70" stroke="#000" stroke-width="2.0"/>
<line x1="637.50" y1="833.22" x2="648.50" y2="833.22" stroke="#000" stroke-width="2.0"/>
<line x1="637.50" y1="773.80" x2="648.50" y2="773.80" stroke="#000" stroke-width="2.0"/>
<line x1="637.50" y1="714.38" x2="648.50" y2="714.38" stroke="#000" stroke-width="2.0"/>
<line x1="637.50" y1="654.96" x2="648.50" y2="654.96" stroke="#000" stroke-width="2.0"/>
<line x1="637.50" y1="595.54" x2="648.50" y2="595.54" stroke="#000" stroke-width="2.0"/>
<line x1="637.50" y1="536.12" x2="648.50" y2="536.12" stroke="#000" stroke-width="2.0"/>
<line x1="638.50" y1="773.80" x2="1014.40" y2="773.80" stroke="#2a0000" stroke-width="2.3" stroke-dasharray="11.7 8.3" stroke-dashoffset="16.25" stroke-linecap="round"/>
<line x1="638.00" y1="773.80" x2="642.50" y2="773.80" stroke="#2a0000" stroke-width="2.3"/>
<line x1="638.50" y1="833.22" x2="1014.40" y2="833.22" stroke="#2a0000" stroke-width="2.3" stroke-dasharray="11.7 8.3" stroke-dashoffset="16.25" stroke-linecap="round"/>
<line x1="638.00" y1="833.22" x2="642.50" y2="833.22" stroke="#2a0000" stroke-width="2.3"/>
<line x1="785.69" y1="506.20" x2="785.69" y2="882.70" stroke="#2a0000" stroke-width="2.3" stroke-dasharray="11.0 9.0" stroke-dashoffset="14.65" stroke-linecap="round"/>
<line x1="939.95" y1="506.20" x2="939.95" y2="882.70" stroke="#2a0000" stroke-width="2.3" stroke-dasharray="11.0 9.0" stroke-dashoffset="14.65" stroke-linecap="round"/>
<g fill="#A020F0" stroke="#1a1a1a" stroke-width="0.7"><path d="M770.4,813.1L773.9,807.0H780.8L784.2,813.1L780.8,819.2H773.9Z"/><path d="M774.4,819.1L777.9,813.0H784.8L788.2,819.1L784.8,825.2H777.9Z"/><path d="M753.6,821.8L757.1,815.7H764.0L767.4,821.8L764.0,827.9H757.1Z"/><path d="M763.1,829.1L766.6,823.0H773.5L776.9,829.1L773.5,835.2H766.6Z"/><path d="M763.5,819.0L766.9,812.9H773.8L777.3,819.0L773.8,825.1H766.9Z"/><path d="M794.6,828.1L798.1,822.0H805.0L808.4,828.1L805.0,834.2H798.1Z"/><path d="M757.0,783.5L760.5,777.4H767.4L770.8,783.5L767.4,789.6H760.5Z"/><path d="M757.1,805.3L760.5,799.2H767.4L770.9,805.3L767.4,811.4H760.5Z"/><path d="M790.0,829.2L793.4,823.1H800.3L803.8,829.2L800.3,835.3H793.4Z"/><path d="M757.7,814.4L761.1,808.3H768.0L771.5,814.4L768.0,820.5H761.1Z"/><path d="M780.5,827.0L783.9,820.9H790.8L794.3,827.0L790.8,833.1H783.9Z"/><path d="M754.2,787.7L757.7,781.6H764.6L768.0,787.7L764.6,793.8H757.7Z"/><path d="M753.1,805.5L756.6,799.4H763.5L766.9,805.5L763.5,811.6H756.6Z"/><path d="M766.1,794.3L769.5,788.2H776.4L779.9,794.3L776.4,800.4H769.5Z"/><path d="M768.3,782.6L771.8,776.5H778.7L782.1,782.6L778.7,788.7H771.8Z"/><path d="M764.5,800.2L767.9,794.1H774.9L778.3,800.2L774.9,806.3H767.9Z"/><path d="M757.0,809.0L760.4,802.9H767.4L770.8,809.0L767.4,815.1H760.4Z"/><path d="M777.1,800.2L780.5,794.1H787.5L790.9,800.2L787.5,806.3H780.5Z"/><path d="M769.6,811.5L773.0,805.4H780.0L783.4,811.5L780.0,817.6H773.0Z"/><path d="M783.4,811.5L786.8,805.4H793.8L797.2,811.5L793.8,817.6H786.8Z"/><path d="M792.1,810.3L795.5,804.2H802.5L805.9,810.3L802.5,816.4H795.5Z"/><path d="M762.0,825.4L765.4,819.3H772.4L775.8,825.4L772.4,831.5H765.4Z"/><path d="M770.8,822.9L774.2,816.8H781.2L784.6,822.9L781.2,829.0H774.2Z"/><path d="M798.5,819.0L801.9,812.9H808.9L812.3,819.0L808.9,825.1H801.9Z"/><path d="M804.8,828.5L808.2,822.4H815.2L818.6,828.5L815.2,834.6H808.2Z"/><path d="M774.6,792.7L778.0,786.6H785.0L788.4,792.7L785.0,798.8H778.0Z"/><path d="M785.9,804.0L789.3,797.9H796.2L799.7,804.0L796.2,810.1H789.3Z"/><path d="M760.1,790.0L763.5,783.9H770.5L773.9,790.0L770.5,796.1H763.5Z"/><path d="M763.1,815.0L766.5,808.9H773.5L776.9,815.0L773.5,821.1H766.5Z"/><path d="M779.1,820.0L782.5,813.9H789.5L792.9,820.0L789.5,826.1H782.5Z"/><path d="M788.1,825.0L791.5,818.9H798.5L801.9,825.0L798.5,831.1H791.5Z"/><path d="M773.1,830.0L776.5,823.9H783.5L786.9,830.0L783.5,836.1H776.5Z"/><path d="M791.1,795.0L794.5,788.9H801.5L804.9,795.0L801.5,801.1H794.5Z"/></g>
<g fill="#AB82FF" stroke="#1a1a1a" stroke-width="0.7"><circle cx="771.4" cy="836.7" r="6.8"/><circle cx="785.3" cy="834.2" r="6.8"/><circle cx="789.0" cy="822.9" r="6.8"/><circle cx="796.6" cy="830.4" r="6.8"/><circle cx="809.1" cy="840.5" r="6.8"/><circle cx="818.0" cy="838.0" r="6.8"/><circle cx="823.0" cy="843.0" r="6.8"/><circle cx="833.0" cy="849.3" r="6.8"/><circle cx="777.7" cy="849.3" r="6.8"/><circle cx="790.3" cy="848.0" r="6.8"/><circle cx="800.3" cy="843.0" r="6.8"/><circle cx="781.5" cy="841.7" r="6.8"/><circle cx="775.0" cy="830.0" r="6.8"/><circle cx="803.0" cy="833.0" r="6.8"/><circle cx="815.0" cy="848.0" r="6.8"/><circle cx="792.0" cy="838.0" r="6.8"/><circle cx="806.0" cy="850.0" r="6.8"/><circle cx="785.0" cy="852.0" r="6.8"/></g>
<g fill="#ADD8E6" stroke="#1a1a1a" stroke-width="0.7"><rect x="777.5" y="851.6" width="10.4" height="10.4"/><rect x="786.3" y="857.8" width="10.4" height="10.4"/><rect x="795.1" y="850.3" width="10.4" height="10.4"/><rect x="805.2" y="854.1" width="10.4" height="10.4"/><rect x="812.8" y="850.3" width="10.4" height="10.4"/><rect x="825.3" y="855.4" width="10.4" height="10.4"/><rect x="835.4" y="854.1" width="10.4" height="10.4"/><rect x="847.9" y="851.6" width="10.4" height="10.4"/><rect x="849.2" y="859.1" width="10.4" height="10.4"/><rect x="800.2" y="860.4" width="10.4" height="10.4"/><rect x="788.8" y="850.3" width="10.4" height="10.4"/><rect x="816.5" y="855.4" width="10.4" height="10.4"/><rect x="780.8" y="855.8" width="10.4" height="10.4"/><rect x="791.8" y="856.8" width="10.4" height="10.4"/><rect x="809.8" y="859.8" width="10.4" height="10.4"/><rect x="820.8" y="851.8" width="10.4" height="10.4"/><rect x="830.8" y="858.8" width="10.4" height="10.4"/><rect x="840.8" y="852.8" width="10.4" height="10.4"/><rect x="839.8" y="860.8" width="10.4" height="10.4"/></g>
<g fill="#6A2090" stroke="#1a1a1a" stroke-width="0.7"><path d="M753.5,680.8L759.6,691.2H747.4Z"/><path d="M755.4,685.1L761.5,695.6H749.3Z"/><path d="M755.0,685.7L761.1,696.2H748.9Z"/><path d="M755.9,686.6L762.0,697.1H749.8Z"/><path d="M755.9,688.2L762.0,698.7H749.8Z"/><path d="M756.8,688.6L762.9,699.1H750.7Z"/><path d="M757.4,690.6L763.5,701.1H751.3Z"/><path d="M758.6,691.8L764.7,702.2H752.5Z"/><path d="M755.5,693.0L761.6,703.5H749.4Z"/><path d="M756.4,694.3L762.5,704.8H750.3Z"/><path d="M757.0,695.9L763.1,706.4H750.9Z"/><path d="M758.5,696.1L764.6,706.6H752.4Z"/><path d="M756.4,697.6L762.5,708.1H750.3Z"/><path d="M755.4,700.0L761.5,710.5H749.3Z"/><path d="M760.3,700.4L766.4,710.9H754.2Z"/><path d="M755.3,701.7L761.4,712.2H749.2Z"/><path d="M759.4,703.5L765.5,714.0H753.3Z"/><path d="M762.2,703.7L768.3,714.2H756.1Z"/><path d="M761.1,705.4L767.2,715.9H755.0Z"/><path d="M762.9,706.3L769.0,716.8H756.8Z"/><path d="M756.9,706.7L763.0,717.2H750.8Z"/><path d="M765.2,712.2L771.3,722.8H759.1Z"/><path d="M766.3,715.1L772.4,725.6H760.2Z"/><path d="M760.4,715.7L766.5,726.2H754.3Z"/><path d="M762.4,716.4L768.5,726.9H756.3Z"/><path d="M761.1,717.9L767.2,728.4H755.0Z"/><path d="M757.3,718.0L763.4,728.5H751.2Z"/><path d="M761.6,719.8L767.7,730.2H755.5Z"/><path d="M759.2,720.2L765.3,730.7H753.1Z"/><path d="M767.6,720.4L773.7,730.9H761.5Z"/><path d="M759.9,720.9L766.0,731.4H753.8Z"/><path d="M757.4,722.7L763.5,733.2H751.3Z"/><path d="M763.5,723.2L769.6,733.7H757.4Z"/><path d="M768.2,724.0L774.3,734.5H762.1Z"/><path d="M770.0,724.3L776.1,734.8H763.9Z"/><path d="M758.6,727.0L764.7,737.5H752.5Z"/><path d="M757.4,727.1L763.5,737.6H751.3Z"/><path d="M758.9,727.4L765.0,737.9H752.8Z"/><path d="M762.7,732.6L768.8,743.1H756.6Z"/><path d="M772.6,734.4L778.7,744.9H766.5Z"/><path d="M760.6,735.0L766.7,745.5H754.5Z"/><path d="M769.2,736.0L775.3,746.5H763.1Z"/><path d="M762.3,738.8L768.4,749.2H756.2Z"/><path d="M771.2,739.8L777.3,750.3H765.1Z"/><path d="M769.5,741.4L775.6,751.9H763.4Z"/><path d="M761.8,742.0L767.9,752.5H755.7Z"/><path d="M774.5,747.1L780.6,757.6H768.4Z"/><path d="M774.0,747.5L780.1,758.0H767.9Z"/><path d="M777.2,748.9L783.3,759.4H771.1Z"/><path d="M774.7,750.9L780.8,761.4H768.6Z"/><path d="M778.5,756.4L784.6,766.9H772.4Z"/><path d="M782.2,757.1L788.3,767.6H776.1Z"/><path d="M781.4,757.3L787.5,767.8H775.3Z"/><path d="M766.7,757.8L772.8,768.2H760.6Z"/><path d="M756.6,758.7L762.7,769.2H750.5Z"/><path d="M782.5,761.6L788.6,772.1H776.4Z"/><path d="M757.9,762.2L764.0,772.8H751.8Z"/><path d="M784.3,762.2L790.4,772.8H778.2Z"/><path d="M780.0,763.5L786.1,774.0H773.9Z"/><path d="M778.5,768.0L784.6,778.5H772.4Z"/><path d="M782.0,768.5L788.1,779.0H775.9Z"/><path d="M770.5,770.7L776.6,781.2H764.4Z"/><path d="M784.3,772.5L790.4,783.0H778.2Z"/><path d="M759.3,772.8L765.4,783.3H753.2Z"/><path d="M788.7,776.8L794.8,787.2H782.6Z"/><path d="M765.5,778.6L771.6,789.1H759.4Z"/><path d="M772.0,780.8L778.1,791.2H765.9Z"/><path d="M789.5,782.4L795.6,792.9H783.4Z"/><path d="M795.0,782.8L801.1,793.2H788.9Z"/><path d="M760.0,784.8L766.1,795.2H753.9Z"/><path d="M790.0,784.8L796.1,795.2H783.9Z"/><path d="M778.7,785.5L784.8,796.0H772.6Z"/><path d="M755.9,787.1L762.0,797.6H749.8Z"/><path d="M772.4,787.2L778.5,797.7H766.3Z"/><path d="M788.7,787.9L794.8,798.4H782.6Z"/><path d="M775.7,788.4L781.8,798.9H769.6Z"/><path d="M788.5,789.7L794.6,800.2H782.4Z"/><path d="M766.0,789.8L772.1,800.2H759.9Z"/></g>
<g fill="#556B2F" stroke="#1a1a1a" stroke-width="0.7"><path d="M703.9,839.5L707.3,833.4H714.2L717.7,839.5L714.2,845.6H707.3Z"/><path d="M729.7,733.7L733.1,727.6H740.1L743.5,733.7L740.1,739.8H733.1Z"/><path d="M737.1,745.4L740.5,739.3H747.5L750.9,745.4L747.5,751.5H740.5Z"/><path d="M734.8,750.0L738.2,743.9H745.2L748.6,750.0L745.2,756.1H738.2Z"/><path d="M735.1,818.0L738.5,811.9H745.5L748.9,818.0L745.5,824.1H738.5Z"/><path d="M738.1,824.0L741.5,817.9H748.5L751.9,824.0L748.5,830.1H741.5Z"/><path d="M740.3,838.4L743.8,832.3H750.7L754.1,838.4L750.7,844.5H743.8Z"/><path d="M739.8,833.6L743.3,827.5H750.2L753.6,833.6L750.2,839.7H743.3Z"/><path d="M735.8,839.8L739.3,833.7H746.2L749.6,839.8L746.2,845.9H739.3Z"/><path d="M740.6,833.6L744.1,827.5H751.0L754.4,833.6L751.0,839.7H744.1Z"/><path d="M741.0,841.9L744.5,835.8H751.4L754.8,841.9L751.4,848.0H744.5Z"/><path d="M737.0,843.6L740.4,837.5H747.3L750.8,843.6L747.3,849.7H740.4Z"/><path d="M744.0,836.3L747.4,830.2H754.3L757.8,836.3L754.3,842.4H747.4Z"/><path d="M732.9,830.7L736.3,824.6H743.2L746.7,830.7L743.2,836.8H736.3Z"/><path d="M740.9,843.0L744.3,836.9H751.2L754.7,843.0L751.2,849.1H744.3Z"/><path d="M731.5,839.1L735.0,833.0H741.9L745.3,839.1L741.9,845.2H735.0Z"/><path d="M737.8,839.7L741.3,833.6H748.2L751.6,839.7L748.2,845.8H741.3Z"/><path d="M723.6,840.5L727.0,834.4H733.9L737.4,840.5L733.9,846.6H727.0Z"/><path d="M734.2,838.6L737.7,832.5H744.6L748.0,838.6L744.6,844.7H737.7Z"/><path d="M730.0,838.0L733.5,831.9H740.4L743.8,838.0L740.4,844.1H733.5Z"/><path d="M739.2,838.2L742.7,832.1H749.6L753.0,838.2L749.6,844.3H742.7Z"/><path d="M737.8,828.4L741.3,822.3H748.2L751.6,828.4L748.2,834.5H741.3Z"/><path d="M723.3,835.1L726.7,829.0H733.6L737.1,835.1L733.6,841.2H726.7Z"/><path d="M736.0,831.5L739.5,825.4H746.4L749.8,831.5L746.4,837.6H739.5Z"/></g>
<g fill="#C0FF3E" stroke="#1a1a1a" stroke-width="0.7"><circle cx="699.8" cy="856.0" r="6.8"/><circle cx="713.0" cy="855.3" r="6.8"/><circle cx="717.0" cy="851.5" r="6.8"/><circle cx="721.0" cy="853.4" r="6.8"/><circle cx="725.0" cy="855.9" r="6.8"/><circle cx="729.0" cy="855.2" r="6.8"/><circle cx="733.0" cy="851.6" r="6.8"/><circle cx="737.0" cy="857.5" r="6.8"/><circle cx="741.0" cy="854.8" r="6.8"/><circle cx="745.0" cy="854.2" r="6.8"/><circle cx="749.0" cy="849.1" r="6.8"/><circle cx="753.0" cy="853.9" r="6.8"/><circle cx="757.0" cy="851.3" r="6.8"/><circle cx="727.0" cy="855.0" r="6.8"/><circle cx="735.0" cy="853.2" r="6.8"/></g>
<g fill="#76EE00" stroke="#1a1a1a" stroke-width="0.7"><rect x="681.3" y="865.3" width="10.4" height="10.4"/><rect x="699.8" y="864.6" width="10.4" height="10.4"/><rect x="705.8" y="864.3" width="10.4" height="10.4"/><rect x="710.8" y="863.9" width="10.4" height="10.4"/><rect x="715.8" y="864.2" width="10.4" height="10.4"/><rect x="720.8" y="865.1" width="10.4" height="10.4"/><rect x="725.8" y="865.2" width="10.4" height="10.4"/><rect x="730.8" y="864.4" width="10.4" height="10.4"/><rect x="735.8" y="865.1" width="10.4" height="10.4"/><rect x="740.8" y="865.0" width="10.4" height="10.4"/><rect x="745.8" y="864.9" width="10.4" height="10.4"/><rect x="750.8" y="864.9" width="10.4" height="10.4"/><rect x="755.8" y="865.0" width="10.4" height="10.4"/><rect x="760.8" y="864.4" width="10.4" height="10.4"/></g>
<g fill="#006400" stroke="#1a1a1a" stroke-width="0.7"><path d="M745.5,509.4L751.6,519.9H739.4Z"/><path d="M745.1,569.8L751.2,580.2H739.0Z"/><path d="M745.1,614.2L751.2,624.8H739.0Z"/><path d="M744.4,655.0L750.5,665.5H738.3Z"/><path d="M743.5,663.8L749.6,674.2H737.4Z"/><path d="M744.7,671.8L750.8,682.2H738.6Z"/><path d="M742.5,677.8L748.6,688.2H736.4Z"/><path d="M742.0,687.4L748.1,697.9H735.9Z"/><path d="M744.4,696.1L750.5,706.6H738.3Z"/><path d="M744.0,701.2L750.1,711.8H737.9Z"/><path d="M744.0,705.0L750.1,715.5H737.9Z"/><path d="M744.0,711.5L750.1,722.0H737.9Z"/><path d="M744.0,719.6L750.1,730.1H737.9Z"/><path d="M743.2,729.1L749.3,739.6H737.1Z"/><path d="M743.5,752.8L749.6,763.2H737.4Z"/><path d="M740.3,768.0L746.4,778.5H734.2Z"/><path d="M741.7,772.5L747.8,783.0H735.6Z"/><path d="M741.7,776.8L747.8,787.2H735.6Z"/><path d="M721.8,806.8L727.9,817.2H715.7Z"/><path d="M731.7,803.5L737.8,814.0H725.6Z"/><path d="M745.9,797.6L752.0,808.1H739.8Z"/><path d="M739.4,786.8L745.5,797.3H733.3Z"/><path d="M741.3,758.4L747.4,768.9H735.2Z"/><path d="M740.3,776.3L746.4,786.8H734.2Z"/><path d="M740.8,767.9L746.9,778.4H734.7Z"/><path d="M739.4,786.4L745.5,796.9H733.3Z"/><path d="M742.8,796.4L748.9,806.9H736.7Z"/><path d="M744.9,770.9L751.0,781.4H738.8Z"/><path d="M748.0,754.8L754.1,765.3H741.9Z"/><path d="M743.1,773.7L749.2,784.2H737.0Z"/><path d="M743.1,762.6L749.2,773.1H737.0Z"/><path d="M747.3,780.2L753.4,790.7H741.2Z"/><path d="M739.4,796.5L745.5,807.0H733.3Z"/><path d="M739.9,791.8L746.0,802.3H733.8Z"/><path d="M742.4,794.3L748.5,804.8H736.3Z"/><path d="M748.6,810.4L754.7,820.9H742.5Z"/></g>
<path d="M637.50,505.20 V883.70 H1015.90" fill="none" stroke="#000" stroke-width="2.3"/>
<text x="281.7" y="548.9" font-size="21" text-anchor="middle">No BML</text>
<text x="402.5" y="548.9" font-size="21" text-anchor="middle">BML</text>
<text x="347.3" y="571.4" font-size="21" text-anchor="middle">0.15</text>
<g fill="#76EE00" stroke="#000" stroke-width="1.5"><rect x="268.2" y="557.5" width="13.4" height="13.4"/></g>
<g fill="#ADD8E6" stroke="#000" stroke-width="1.5"><rect x="394.3" y="557.5" width="13.4" height="13.4"/></g>
<text x="347.3" y="593.3" font-size="21" text-anchor="middle">0.20</text>
<g fill="#C0FF3E" stroke="#000" stroke-width="1.5"><circle cx="274.9" cy="586.1" r="9.2"/></g>
<g fill="#AB82FF" stroke="#000" stroke-width="1.5"><circle cx="401.0" cy="586.1" r="9.2"/></g>
<text x="347.3" y="615.2" font-size="21" text-anchor="middle">0.25</text>
<g fill="#556B2F" stroke="#000" stroke-width="1.5"><path d="M265.7,608.0L270.3,600.1H279.5L284.1,608.0L279.5,615.9H270.3Z"/></g>
<g fill="#A020F0" stroke="#000" stroke-width="1.5"><path d="M391.8,608.0L396.4,600.1H405.6L410.2,608.0L405.6,615.9H396.4Z"/></g>
<text x="347.3" y="637.1" font-size="21" text-anchor="middle">0.30</text>
<g fill="#006400" stroke="#000" stroke-width="1.5"><path d="M274.9,620.1L283.3,635.3H266.5Z"/></g>
<g fill="#6A2090" stroke="#000" stroke-width="1.5"><path d="M401.0,620.1L409.4,635.3H392.6Z"/></g>
<rect x="810.9" y="524.3" width="192.3" height="119.4" fill="#fff" stroke="#000" stroke-width="1.5"/>
<text x="856.1" y="544.7" font-size="21" text-anchor="middle">No BML</text>
<text x="974.2" y="544.7" font-size="21" text-anchor="middle">BML</text>
<text x="921.0" y="571.4" font-size="21" text-anchor="middle">0.15</text>
<g fill="#76EE00" stroke="#000" stroke-width="1.5"><rect x="842.6" y="557.5" width="13.4" height="13.4"/></g>
<g fill="#ADD8E6" stroke="#000" stroke-width="1.5"><rect x="966.8" y="557.5" width="13.4" height="13.4"/></g>
<text x="921.0" y="593.3" font-size="21" text-anchor="middle">0.20</text>
<g fill="#C0FF3E" stroke="#000" stroke-width="1.5"><circle cx="849.3" cy="586.1" r="9.2"/></g>
<g fill="#AB82FF" stroke="#000" stroke-width="1.5"><circle cx="973.5" cy="586.1" r="9.2"/></g>
<text x="921.0" y="615.2" font-size="21" text-anchor="middle">0.25</text>
<g fill="#556B2F" stroke="#000" stroke-width="1.5"><path d="M840.1,608.0L844.7,600.1H853.9L858.5,608.0L853.9,615.9H844.7Z"/></g>
<g fill="#A020F0" stroke="#000" stroke-width="1.5"><path d="M964.3,608.0L968.9,600.1H978.1L982.7,608.0L978.1,615.9H968.9Z"/></g>
<text x="921.0" y="637.1" font-size="21" text-anchor="middle">0.30</text>
<g fill="#006400" stroke="#000" stroke-width="1.5"><path d="M849.3,620.1L857.7,635.3H840.9Z"/></g>
<g fill="#6A2090" stroke="#000" stroke-width="1.5"><path d="M973.5,620.1L981.9,635.3H965.1Z"/></g>
<text id="t_ay1,500" x="97.50" y="416.50" font-size="21" text-anchor="end" >1,500</text>
<text id="t_ay2,000" x="97.50" y="318.20" font-size="21" text-anchor="end" >2,000</text>
<text id="t_ay2,500" x="97.50" y="219.30" font-size="21" text-anchor="end" >2,500</text>
<text id="t_ay3,000" x="97.50" y="121.00" font-size="21" text-anchor="end" >3,000</text>
<text id="t_by1,500" x="626.10" y="418.60" font-size="21" text-anchor="end" >1,500</text>
<text id="t_by2,000" x="626.10" y="319.80" font-size="21" text-anchor="end" >2,000</text>
<text id="t_by2,500" x="626.10" y="219.10" font-size="21" text-anchor="end" >2,500</text>
<text id="t_by3,000" x="626.10" y="119.00" font-size="21" text-anchor="end" >3,000</text>
<text id="t_cy1,000" x="97.60" y="841.22" font-size="21" text-anchor="end" >1,000</text>
<text id="t_cy2,000" x="97.60" y="781.80" font-size="21" text-anchor="end" >2,000</text>
<text id="t_cy3,000" x="97.60" y="722.38" font-size="21" text-anchor="end" >3,000</text>
<text id="t_cy4,000" x="97.60" y="662.96" font-size="21" text-anchor="end" >4,000</text>
<text id="t_cy5,000" x="97.60" y="603.54" font-size="21" text-anchor="end" >5,000</text>
<text id="t_cy6,000" x="97.60" y="544.12" font-size="21" text-anchor="end" >6,000</text>
<text id="t_dy1,000" x="626.60" y="840.22" font-size="21" text-anchor="end" >1,000</text>
<text id="t_dy2,000" x="626.60" y="780.80" font-size="21" text-anchor="end" >2,000</text>
<text id="t_dy3,000" x="626.60" y="721.38" font-size="21" text-anchor="end" >3,000</text>
<text id="t_dy4,000" x="626.60" y="661.66" font-size="21" text-anchor="end" >4,000</text>
<text id="t_dy5,000" x="626.60" y="602.24" font-size="21" text-anchor="end" >5,000</text>
<text id="t_dy6,000" x="626.60" y="542.82" font-size="21" text-anchor="end" >6,000</text>
<text id="t_ax10" x="105.75" y="436.75" font-size="21" text-anchor="middle" >10</text>
<text id="t_ax100" x="229.50" y="436.75" font-size="21" text-anchor="middle" >100</text>
<text id="t_ax1,000" x="357.30" y="436.75" font-size="21" text-anchor="middle" >1,000</text>
<text id="t_ax10,000" x="483.60" y="436.75" font-size="21" text-anchor="middle" >10,000</text>
<text id="t_bx10" x="635.10" y="437.40" font-size="21" text-anchor="middle" >10</text>
<text id="t_bx100" x="758.55" y="437.40" font-size="21" text-anchor="middle" >100</text>
<text id="t_bx1,000" x="886.90" y="437.40" font-size="21" text-anchor="middle" >1,000</text>
<text id="t_bx10,000" x="1012.90" y="437.40" font-size="21" text-anchor="middle" >10,000</text>
<text id="t_cx50" x="122.00" y="907.40" font-size="21" text-anchor="middle" >50</text>
<text id="t_cx100" x="198.55" y="907.40" font-size="21" text-anchor="middle" >100</text>
<text id="t_cx150" x="269.85" y="907.40" font-size="21" text-anchor="middle" >150</text>
<text id="t_cx200" x="339.70" y="907.40" font-size="21" text-anchor="middle" >200</text>
<text id="t_cx250" x="410.30" y="907.40" font-size="21" text-anchor="middle" >250</text>
<text id="t_cx300" x="481.50" y="907.40" font-size="21" text-anchor="middle" >300</text>
<text id="t_dx0.5" x="678.25" y="907.40" font-size="21" text-anchor="middle" >0.5</text>
<text id="t_dx1.0" x="744.20" y="907.40" font-size="21" text-anchor="middle" >1.0</text>
<text id="t_dx1.5" x="811.20" y="907.40" font-size="21" text-anchor="middle" >1.5</text>
<text id="t_dx2.0" x="877.50" y="907.40" font-size="21" text-anchor="middle" >2.0</text>
<text id="t_dx2.5" x="944.00" y="907.40" font-size="21" text-anchor="middle" >2.5</text>
<text id="t_dx3.0" x="1011.00" y="907.40" font-size="21" text-anchor="middle" >3.0</text>
<text id="t_ax" x="171.50" y="468.70" font-size="21" text-anchor="start" ><tspan font-style="italic">Q</tspan><tspan font-family='"Liberation Serif", serif' font-style="italic" font-size="15" dy="7.5">μ</tspan><tspan dy="-7.5"> at 1 Hz (without a BML)</tspan></text>
<text id="t_bx" x="719.40" y="466.20" font-size="21" text-anchor="start" ><tspan font-style="italic">Q</tspan><tspan font-family='"Liberation Serif", serif' font-style="italic" font-size="15" dy="7.5">μ</tspan><tspan dy="-7.5"> at 1 Hz (with a  BML)</tspan></text>
<text id="t_cx" x="208.10" y="941.05" font-size="21" text-anchor="start" ><tspan font-style="italic">Q</tspan><tspan font-size="15" dy="7.5">2</tspan><tspan dy="-7.5"> at Phobos tides</tspan></text>
<text id="t_dxR" x="781.80" y="940.40" font-size="21" text-anchor="start" font-style="italic">R</text>
<text id="t_dxS" x="796.40" y="941.00" font-size="23" text-anchor="start" >*</text>
<text id="t_dxQ" x="796.30" y="946.80" font-size="14.5" text-anchor="start" font-style="italic">Q</text>
<text id="t_dxT" x="814.00" y="940.40" font-size="21" text-anchor="start" >at 1 Hz</text>
<text id="t_ay" x="17.70" y="235.00" font-size="21" text-anchor="middle"  transform="rotate(-90 17.70 235.00)">Radius (km)</text>
<text id="t_by" x="552.50" y="226.10" font-size="21" text-anchor="middle"  transform="rotate(-90 552.50 226.10)">Radius (km)</text>
<text id="t_cy" x="24.90" y="694.10" font-size="21" text-anchor="middle"  transform="rotate(-90 24.90 694.10)">Apparent Q<tspan font-size="15" dx="0.8" dy="6.8">ScS</tspan><tspan dy="-6.8"> at 1 Hz (S1222a)</tspan></text>
<text id="t_dy" x="552.30" y="702.70" font-size="21" text-anchor="middle"  transform="rotate(-90 552.30 702.70)">Apparent Q<tspan font-size="15" dx="0.8" dy="6.8">ScS</tspan><tspan dy="-6.8"> at 1 Hz (S1222a)</tspan></text>
<text id="t_La" x="1.10" y="27.85" font-size="34" text-anchor="start" font-weight="bold" stroke="#000" stroke-width="0.9">a</text>
<text id="t_Lb" x="530.80" y="29.00" font-size="34" text-anchor="start" font-weight="bold" stroke="#000" stroke-width="0.9">b</text>
<text id="t_Lc" x="1.10" y="491.20" font-size="34" text-anchor="start" font-weight="bold" stroke="#000" stroke-width="0.9">c</text>
<text id="t_Ld" x="531.20" y="492.30" font-size="34" text-anchor="start" font-weight="bold" stroke="#000" stroke-width="0.9">d</text>
<text id="t_aLa0" x="167.90" y="174.00" font-size="22.5" text-anchor="start" font-family='"Liberation Serif", serif' font-style="italic">α</text>
<text id="t_aLq0" x="181.00" y="179.00" font-size="15.5" text-anchor="start" font-family='"Liberation Serif", serif' font-style="italic">q</text>
<text id="t_aLeq0" x="196.90" y="175.00" font-size="21" text-anchor="start" >=</text>
<text id="t_aLe0" x="214.80" y="172.30" font-size="21" text-anchor="start" >0.15</text>
<text id="t_aLa1" x="167.90" y="195.87" font-size="22.5" text-anchor="start" font-family='"Liberation Serif", serif' font-style="italic">α</text>
<text id="t_aLq1" x="181.00" y="200.87" font-size="15.5" text-anchor="start" font-family='"Liberation Serif", serif' font-style="italic">q</text>
<text id="t_aLeq1" x="196.90" y="196.87" font-size="21" text-anchor="start" >=</text>
<text id="t_aLe1" x="214.80" y="194.17" font-size="21" text-anchor="start" >0.20</text>
<text id="t_aLa2" x="167.90" y="217.74" font-size="22.5" text-anchor="start" font-family='"Liberation Serif", serif' font-style="italic">α</text>
<text id="t_aLq2" x="181.00" y="222.74" font-size="15.5" text-anchor="start" font-family='"Liberation Serif", serif' font-style="italic">q</text>
<text id="t_aLeq2" x="196.90" y="218.74" font-size="21" text-anchor="start" >=</text>
<text id="t_aLe2" x="214.80" y="216.04" font-size="21" text-anchor="start" >0.25</text>
<text id="t_aLa3" x="167.90" y="239.61" font-size="22.5" text-anchor="start" font-family='"Liberation Serif", serif' font-style="italic">α</text>
<text id="t_aLq3" x="181.00" y="244.61" font-size="15.5" text-anchor="start" font-family='"Liberation Serif", serif' font-style="italic">q</text>
<text id="t_aLeq3" x="196.90" y="240.61" font-size="21" text-anchor="start" >=</text>
<text id="t_aLe3" x="214.80" y="237.91" font-size="21" text-anchor="start" >0.30</text>
<text id="t_bLa0" x="697.90" y="174.00" font-size="22.5" text-anchor="start" font-family='"Liberation Serif", serif' font-style="italic">α</text>
<text id="t_bLq0" x="711.00" y="179.00" font-size="15.5" text-anchor="start" font-family='"Liberation Serif", serif' font-style="italic">q</text>
<text id="t_bLeq0" x="726.90" y="175.00" font-size="21" text-anchor="start" >=</text>
<text id="t_bLe0" x="744.80" y="172.30" font-size="21" text-anchor="start" >0.15</text>
<text id="t_bLa1" x="697.90" y="195.87" font-size="22.5" text-anchor="start" font-family='"Liberation Serif", serif' font-style="italic">α</text>
<text id="t_bLq1" x="711.00" y="200.87" font-size="15.5" text-anchor="start" font-family='"Liberation Serif", serif' font-style="italic">q</text>
<text id="t_bLeq1" x="726.90" y="196.87" font-size="21" text-anchor="start" >=</text>
<text id="t_bLe1" x="744.80" y="194.17" font-size="21" text-anchor="start" >0.20</text>
<text id="t_bLa2" x="697.90" y="217.74" font-size="22.5" text-anchor="start" font-family='"Liberation Serif", serif' font-style="italic">α</text>
<text id="t_bLq2" x="711.00" y="222.74" font-size="15.5" text-anchor="start" font-family='"Liberation Serif", serif' font-style="italic">q</text>
<text id="t_bLeq2" x="726.90" y="218.74" font-size="21" text-anchor="start" >=</text>
<text id="t_bLe2" x="744.80" y="216.04" font-size="21" text-anchor="start" >0.25</text>
<text id="t_bLa3" x="697.90" y="239.61" font-size="22.5" text-anchor="start" font-family='"Liberation Serif", serif' font-style="italic">α</text>
<text id="t_bLq3" x="711.00" y="244.61" font-size="15.5" text-anchor="start" font-family='"Liberation Serif", serif' font-style="italic">q</text>
<text id="t_bLeq3" x="726.90" y="240.61" font-size="21" text-anchor="start" >=</text>
<text id="t_bLe3" x="744.80" y="237.91" font-size="21" text-anchor="start" >0.30</text>
<text id="t_cLa" x="335.40" y="548.40" font-size="22.5" text-anchor="start" font-family='"Liberation Serif", serif' font-style="italic">α</text>
<text id="t_cLq" x="346.60" y="551.00" font-size="15.5" text-anchor="start" font-family='"Liberation Serif", serif' font-style="italic">q</text>
<text id="t_dLa" x="908.50" y="544.40" font-size="22.5" text-anchor="start" font-family='"Liberation Serif", serif' font-style="italic">α</text>
<text id="t_dLq" x="920.40" y="547.00" font-size="15.5" text-anchor="start" font-family='"Liberation Serif", serif' font-style="italic">q</text>
</svg></body></html>
